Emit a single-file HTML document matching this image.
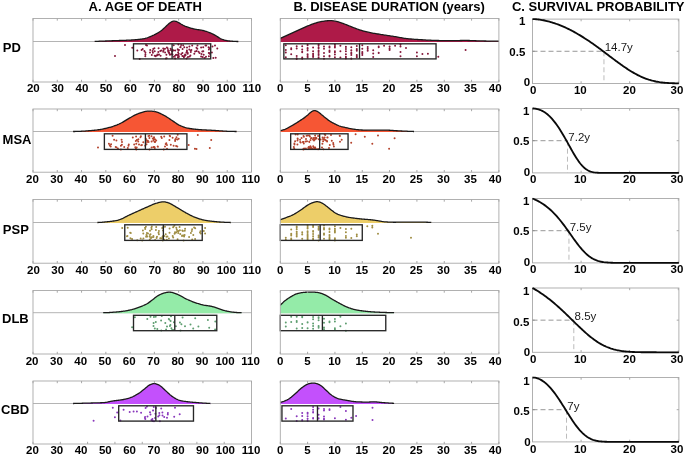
<!DOCTYPE html>
<html><head><meta charset="utf-8"><title>Figure</title>
<style>html,body{margin:0;padding:0;background:#fff}body{width:685px;height:455px;overflow:hidden;font-family:"Liberation Sans",sans-serif}svg{display:block;will-change:transform;opacity:0.9999}</style>
</head><body>
<svg width="685" height="455" viewBox="0 0 685 455" font-family="Liberation Sans, sans-serif">
<rect width="685" height="455" fill="#fff"/>
<g font-weight="bold" font-size="13px" fill="#000">
<text x="145.2" y="10.6" text-anchor="middle">A. AGE OF DEATH</text>
<text x="389.2" y="10.6" text-anchor="middle">B. DISEASE DURATION (years)</text>
<text x="598.2" y="10.6" text-anchor="middle">C. SURVIVAL PROBABILITY</text>
</g>
<g>
<path d="M33.0,41.5H251.5" stroke="#b4b4b4" stroke-width="1"/>
<path d="M94.70,41.41 L95.42,41.38 L96.14,41.36 L96.86,41.33 L97.59,41.30 L98.31,41.28 L99.03,41.25 L99.75,41.22 L100.47,41.19 L101.19,41.17 L101.92,41.14 L102.64,41.11 L103.36,41.09 L104.08,41.06 L104.80,41.03 L105.52,41.00 L106.25,40.98 L106.97,40.95 L107.69,40.92 L108.41,40.90 L109.13,40.87 L109.85,40.84 L110.58,40.81 L111.30,40.79 L112.02,40.76 L112.74,40.73 L113.46,40.71 L114.18,40.68 L114.91,40.65 L115.63,40.63 L116.35,40.60 L117.07,40.58 L117.79,40.56 L118.51,40.53 L119.23,40.51 L119.96,40.49 L120.68,40.46 L121.40,40.44 L122.12,40.41 L122.84,40.39 L123.56,40.36 L124.29,40.34 L125.01,40.31 L125.73,40.28 L126.45,40.25 L127.17,40.22 L127.89,40.18 L128.62,40.15 L129.34,40.11 L130.06,40.07 L130.78,40.03 L131.50,39.99 L132.22,39.94 L132.95,39.89 L133.67,39.84 L134.39,39.79 L135.11,39.73 L135.83,39.68 L136.55,39.61 L137.27,39.55 L138.00,39.48 L138.72,39.41 L139.44,39.33 L140.16,39.24 L140.88,39.14 L141.60,39.04 L142.33,38.93 L143.05,38.82 L143.77,38.70 L144.49,38.56 L145.21,38.40 L145.93,38.21 L146.66,38.00 L147.38,37.76 L148.10,37.50 L148.82,37.23 L149.54,36.93 L150.26,36.63 L150.99,36.32 L151.71,36.00 L152.43,35.68 L153.15,35.35 L153.87,35.02 L154.59,34.67 L155.32,34.30 L156.04,33.92 L156.76,33.53 L157.48,33.12 L158.20,32.69 L158.92,32.24 L159.64,31.78 L160.37,31.28 L161.09,30.75 L161.81,30.18 L162.53,29.58 L163.25,28.95 L163.97,28.30 L164.70,27.63 L165.42,26.96 L166.14,26.28 L166.86,25.59 L167.58,24.90 L168.30,24.22 L169.03,23.58 L169.75,22.98 L170.47,22.44 L171.19,21.99 L171.91,21.62 L172.63,21.36 L173.36,21.19 L174.08,21.13 L174.80,21.16 L175.52,21.28 L176.24,21.47 L176.96,21.74 L177.68,22.07 L178.41,22.47 L179.13,22.90 L179.85,23.35 L180.57,23.79 L181.29,24.23 L182.01,24.64 L182.74,25.04 L183.46,25.41 L184.18,25.75 L184.90,26.08 L185.62,26.39 L186.34,26.67 L187.07,26.94 L187.79,27.19 L188.51,27.43 L189.23,27.66 L189.95,27.88 L190.67,28.09 L191.40,28.29 L192.12,28.48 L192.84,28.66 L193.56,28.83 L194.28,29.00 L195.00,29.15 L195.73,29.29 L196.45,29.42 L197.17,29.54 L197.89,29.65 L198.61,29.76 L199.33,29.87 L200.05,29.98 L200.78,30.09 L201.50,30.22 L202.22,30.35 L202.94,30.50 L203.66,30.66 L204.38,30.84 L205.11,31.04 L205.83,31.26 L206.55,31.49 L207.27,31.74 L207.99,32.00 L208.71,32.27 L209.44,32.55 L210.16,32.84 L210.88,33.15 L211.60,33.48 L212.32,33.82 L213.04,34.18 L213.77,34.55 L214.49,34.94 L215.21,35.33 L215.93,35.75 L216.65,36.18 L217.37,36.64 L218.09,37.11 L218.82,37.59 L219.54,38.05 L220.26,38.48 L220.98,38.87 L221.70,39.21 L222.42,39.48 L223.15,39.71 L223.87,39.92 L224.59,40.11 L225.31,40.30 L226.03,40.46 L226.75,40.61 L227.48,40.74 L228.20,40.85 L228.92,40.94 L229.64,41.01 L230.36,41.08 L231.08,41.15 L231.81,41.20 L232.53,41.26 L233.25,41.31 L233.97,41.35 L234.69,41.39 L235.41,41.43 L236.14,41.46 L236.86,41.48 L237.58,41.49 L238.30,41.50 L238.30,42.05 L94.70,42.05Z" fill="#AE1A48"/>
<path d="M94.70,41.41 L95.42,41.38 L96.14,41.36 L96.86,41.33 L97.59,41.30 L98.31,41.28 L99.03,41.25 L99.75,41.22 L100.47,41.19 L101.19,41.17 L101.92,41.14 L102.64,41.11 L103.36,41.09 L104.08,41.06 L104.80,41.03 L105.52,41.00 L106.25,40.98 L106.97,40.95 L107.69,40.92 L108.41,40.90 L109.13,40.87 L109.85,40.84 L110.58,40.81 L111.30,40.79 L112.02,40.76 L112.74,40.73 L113.46,40.71 L114.18,40.68 L114.91,40.65 L115.63,40.63 L116.35,40.60 L117.07,40.58 L117.79,40.56 L118.51,40.53 L119.23,40.51 L119.96,40.49 L120.68,40.46 L121.40,40.44 L122.12,40.41 L122.84,40.39 L123.56,40.36 L124.29,40.34 L125.01,40.31 L125.73,40.28 L126.45,40.25 L127.17,40.22 L127.89,40.18 L128.62,40.15 L129.34,40.11 L130.06,40.07 L130.78,40.03 L131.50,39.99 L132.22,39.94 L132.95,39.89 L133.67,39.84 L134.39,39.79 L135.11,39.73 L135.83,39.68 L136.55,39.61 L137.27,39.55 L138.00,39.48 L138.72,39.41 L139.44,39.33 L140.16,39.24 L140.88,39.14 L141.60,39.04 L142.33,38.93 L143.05,38.82 L143.77,38.70 L144.49,38.56 L145.21,38.40 L145.93,38.21 L146.66,38.00 L147.38,37.76 L148.10,37.50 L148.82,37.23 L149.54,36.93 L150.26,36.63 L150.99,36.32 L151.71,36.00 L152.43,35.68 L153.15,35.35 L153.87,35.02 L154.59,34.67 L155.32,34.30 L156.04,33.92 L156.76,33.53 L157.48,33.12 L158.20,32.69 L158.92,32.24 L159.64,31.78 L160.37,31.28 L161.09,30.75 L161.81,30.18 L162.53,29.58 L163.25,28.95 L163.97,28.30 L164.70,27.63 L165.42,26.96 L166.14,26.28 L166.86,25.59 L167.58,24.90 L168.30,24.22 L169.03,23.58 L169.75,22.98 L170.47,22.44 L171.19,21.99 L171.91,21.62 L172.63,21.36 L173.36,21.19 L174.08,21.13 L174.80,21.16 L175.52,21.28 L176.24,21.47 L176.96,21.74 L177.68,22.07 L178.41,22.47 L179.13,22.90 L179.85,23.35 L180.57,23.79 L181.29,24.23 L182.01,24.64 L182.74,25.04 L183.46,25.41 L184.18,25.75 L184.90,26.08 L185.62,26.39 L186.34,26.67 L187.07,26.94 L187.79,27.19 L188.51,27.43 L189.23,27.66 L189.95,27.88 L190.67,28.09 L191.40,28.29 L192.12,28.48 L192.84,28.66 L193.56,28.83 L194.28,29.00 L195.00,29.15 L195.73,29.29 L196.45,29.42 L197.17,29.54 L197.89,29.65 L198.61,29.76 L199.33,29.87 L200.05,29.98 L200.78,30.09 L201.50,30.22 L202.22,30.35 L202.94,30.50 L203.66,30.66 L204.38,30.84 L205.11,31.04 L205.83,31.26 L206.55,31.49 L207.27,31.74 L207.99,32.00 L208.71,32.27 L209.44,32.55 L210.16,32.84 L210.88,33.15 L211.60,33.48 L212.32,33.82 L213.04,34.18 L213.77,34.55 L214.49,34.94 L215.21,35.33 L215.93,35.75 L216.65,36.18 L217.37,36.64 L218.09,37.11 L218.82,37.59 L219.54,38.05 L220.26,38.48 L220.98,38.87 L221.70,39.21 L222.42,39.48 L223.15,39.71 L223.87,39.92 L224.59,40.11 L225.31,40.30 L226.03,40.46 L226.75,40.61 L227.48,40.74 L228.20,40.85 L228.92,40.94 L229.64,41.01 L230.36,41.08 L231.08,41.15 L231.81,41.20 L232.53,41.26 L233.25,41.31 L233.97,41.35 L234.69,41.39 L235.41,41.43 L236.14,41.46 L236.86,41.48 L237.58,41.49 L238.30,41.50" fill="none" stroke="#1a1a1a" stroke-width="1.3" stroke-linejoin="round"/>
<path d="M186.6,58.6h0M199.5,52.9h0M155.8,56.2h0M163.2,48.5h0M208.9,56.2h0M203.7,54.7h0M201.5,53.9h0M175.2,58.4h0M163.5,50.8h0M161.3,50.5h0M159.0,54.6h0M173.7,56.7h0M177.7,49.3h0M181.2,54.2h0M201.1,47.5h0M186.4,52.5h0M154.7,55.7h0M147.0,45.4h0M185.6,55.1h0M178.4,44.6h0M175.1,58.5h0M187.0,51.3h0M178.4,50.4h0M177.2,55.0h0M158.3,52.1h0M151.8,55.1h0M192.2,45.6h0M152.9,52.7h0M168.6,52.6h0M204.6,58.1h0M146.0,45.0h0M160.3,51.1h0M209.6,53.7h0M178.1,52.5h0M206.2,45.5h0M187.8,53.1h0M196.5,47.7h0M180.3,47.3h0M177.9,57.3h0M208.6,47.3h0M168.0,51.1h0M184.5,55.4h0M169.9,54.8h0M165.1,52.5h0M145.3,56.3h0M203.3,51.2h0M169.3,53.5h0M183.9,56.4h0M185.1,54.4h0M187.7,53.8h0M190.8,50.4h0M145.4,52.6h0M173.4,50.2h0M157.4,55.3h0M170.9,50.0h0M154.7,51.3h0M190.4,55.5h0M163.2,51.8h0M208.9,49.4h0M189.7,56.6h0M141.6,50.0h0M206.0,56.8h0M182.4,55.9h0M144.4,51.0h0M151.8,54.9h0M181.1,44.9h0M150.2,50.1h0M188.0,57.0h0M182.4,52.9h0M169.1,52.6h0M171.5,54.2h0M157.4,54.4h0M209.1,53.0h0M175.2,50.6h0M180.7,47.1h0M165.0,48.7h0M197.3,48.7h0M168.8,50.7h0M139.7,59.1h0M189.3,49.6h0M172.6,51.0h0M179.0,49.9h0M208.8,52.9h0M166.7,58.3h0M183.9,57.5h0M191.4,49.9h0M167.6,48.3h0M178.7,57.4h0M198.6,51.7h0M145.4,54.5h0M197.5,45.5h0M202.7,57.1h0M142.7,49.0h0M172.0,51.7h0M203.2,47.3h0M186.9,50.6h0M201.1,56.6h0M178.3,56.6h0M195.1,51.4h0M156.0,55.7h0M152.6,51.1h0M168.1,49.9h0M150.0,52.4h0M166.9,47.4h0M182.6,49.1h0M166.4,54.8h0M160.6,55.7h0M173.7,45.2h0M178.5,55.2h0M178.9,56.4h0M196.6,50.9h0M183.2,45.3h0M172.5,54.4h0M209.4,48.0h0M171.5,53.9h0M172.7,49.9h0M178.7,53.8h0M158.6,48.2h0M202.3,51.4h0M190.8,52.1h0M194.3,53.7h0M187.0,47.4h0M165.9,58.5h0M170.6,48.7h0M153.2,48.9h0M154.4,48.2h0M205.5,45.4h0M137.3,50.6h0M185.0,55.7h0M176.0,54.8h0M184.3,47.3h0M189.4,46.4h0M163.8,49.1h0M175.1,55.7h0M186.9,51.6h0M125.0,44.9h0M115.0,56.1h0M132.3,47.7h0M215.0,45.4h0M217.3,48.4h0M211.9,52.4h0M215.7,57.7h0M213.3,57.9h0M212.5,46.5h0" stroke="#861A3C" stroke-width="2.0" stroke-linecap="round" fill="none"/>
<rect x="133.51" y="43.8" width="77.20" height="15.10" fill="none" stroke="#262626" stroke-width="1.35"/>
<path d="M172.11,43.8V58.9" stroke="#262626" stroke-width="1.35"/>
<rect x="33.0" y="18.45" width="218.50" height="63.55" fill="none" stroke="#a8a8a8" stroke-width="0.9"/>
<path d="M33.00,18.45v2.2M57.28,18.45v2.2M81.56,18.45v2.2M105.83,18.45v2.2M130.11,18.45v2.2M154.39,18.45v2.2M178.67,18.45v2.2M202.94,18.45v2.2M227.22,18.45v2.2M251.50,18.45v2.2M33.00,82.0v-2.2M57.28,82.0v-2.2M81.56,82.0v-2.2M105.83,82.0v-2.2M130.11,82.0v-2.2M154.39,82.0v-2.2M178.67,82.0v-2.2M202.94,82.0v-2.2M227.22,82.0v-2.2M251.50,82.0v-2.2" stroke="#a8a8a8" stroke-width="1" fill="none"/>
</g>
<g font-weight="bold" font-size="11.5px" fill="#000" text-anchor="middle">
<text x="33.3" y="92.3">20</text>
<text x="57.6" y="92.3">30</text>
<text x="81.9" y="92.3">40</text>
<text x="106.1" y="92.3">50</text>
<text x="130.4" y="92.3">60</text>
<text x="154.7" y="92.3">70</text>
<text x="179.0" y="92.3">80</text>
<text x="203.2" y="92.3">90</text>
<text x="226.2" y="92.3">100</text>
<text x="251.8" y="92.3">110</text>
<text x="280.3" y="92.3">0</text>
<text x="307.5" y="92.3">5</text>
<text x="334.6" y="92.3">10</text>
<text x="361.8" y="92.3">15</text>
<text x="389.0" y="92.3">20</text>
<text x="416.2" y="92.3">25</text>
<text x="443.4" y="92.3">30</text>
<text x="470.5" y="92.3">35</text>
<text x="495.2" y="92.3">40</text>
</g>
<text x="2.8" y="52.1" font-weight="bold" font-size="13px" fill="#000">PD</text>
<g>
<path d="M280.3,41.5H498.9" stroke="#b4b4b4" stroke-width="1"/>
<path d="M280.30,38.30 L281.40,37.81 L282.50,37.34 L283.60,36.85 L284.69,36.37 L285.79,35.88 L286.89,35.39 L287.99,34.89 L289.09,34.40 L290.19,33.90 L291.28,33.40 L292.38,32.90 L293.48,32.39 L294.58,31.88 L295.68,31.36 L296.78,30.85 L297.88,30.33 L298.97,29.83 L300.07,29.32 L301.17,28.83 L302.27,28.34 L303.37,27.85 L304.47,27.37 L305.57,26.89 L306.66,26.43 L307.76,25.97 L308.86,25.51 L309.96,25.07 L311.06,24.63 L312.16,24.22 L313.25,23.82 L314.35,23.44 L315.45,23.08 L316.55,22.75 L317.65,22.45 L318.75,22.17 L319.85,21.91 L320.94,21.68 L322.04,21.46 L323.14,21.27 L324.24,21.09 L325.34,20.95 L326.44,20.85 L327.54,20.77 L328.63,20.71 L329.73,20.68 L330.83,20.67 L331.93,20.71 L333.03,20.80 L334.13,20.93 L335.22,21.13 L336.32,21.39 L337.42,21.67 L338.52,21.97 L339.62,22.30 L340.72,22.65 L341.82,23.02 L342.91,23.41 L344.01,23.82 L345.11,24.24 L346.21,24.68 L347.31,25.12 L348.41,25.56 L349.51,26.00 L350.60,26.44 L351.70,26.88 L352.80,27.31 L353.90,27.75 L355.00,28.18 L356.10,28.60 L357.19,29.00 L358.29,29.39 L359.39,29.76 L360.49,30.11 L361.59,30.46 L362.69,30.79 L363.79,31.10 L364.88,31.40 L365.98,31.69 L367.08,31.96 L368.18,32.22 L369.28,32.46 L370.38,32.69 L371.47,32.91 L372.57,33.11 L373.67,33.30 L374.77,33.48 L375.87,33.66 L376.97,33.84 L378.07,34.01 L379.16,34.19 L380.26,34.36 L381.36,34.53 L382.46,34.71 L383.56,34.88 L384.66,35.05 L385.76,35.22 L386.85,35.38 L387.95,35.55 L389.05,35.71 L390.15,35.88 L391.25,36.04 L392.35,36.21 L393.44,36.38 L394.54,36.55 L395.64,36.73 L396.74,36.92 L397.84,37.11 L398.94,37.32 L400.04,37.52 L401.13,37.73 L402.23,37.93 L403.33,38.11 L404.43,38.28 L405.53,38.43 L406.63,38.57 L407.73,38.69 L408.82,38.80 L409.92,38.91 L411.02,39.01 L412.12,39.11 L413.22,39.20 L414.32,39.29 L415.41,39.36 L416.51,39.43 L417.61,39.50 L418.71,39.57 L419.81,39.64 L420.91,39.71 L422.01,39.77 L423.10,39.84 L424.20,39.90 L425.30,39.97 L426.40,40.03 L427.50,40.09 L428.60,40.15 L429.69,40.20 L430.79,40.26 L431.89,40.30 L432.99,40.35 L434.09,40.39 L435.19,40.42 L436.29,40.46 L437.38,40.49 L438.48,40.52 L439.58,40.55 L440.68,40.57 L441.78,40.60 L442.88,40.62 L443.98,40.65 L445.07,40.67 L446.17,40.68 L447.27,40.69 L448.37,40.70 L449.47,40.71 L450.57,40.70 L451.66,40.69 L452.76,40.68 L453.86,40.66 L454.96,40.64 L456.06,40.62 L457.16,40.59 L458.26,40.56 L459.35,40.54 L460.45,40.51 L461.55,40.49 L462.65,40.47 L463.75,40.46 L464.85,40.45 L465.95,40.45 L467.04,40.46 L468.14,40.48 L469.24,40.50 L470.34,40.54 L471.44,40.58 L472.54,40.62 L473.63,40.67 L474.73,40.71 L475.83,40.76 L476.93,40.80 L478.03,40.84 L479.13,40.87 L480.23,40.90 L481.32,40.92 L482.42,40.95 L483.52,40.97 L484.62,41.00 L485.72,41.02 L486.82,41.04 L487.92,41.06 L489.01,41.09 L490.11,41.11 L491.21,41.13 L492.31,41.14 L493.41,41.16 L494.51,41.18 L495.60,41.20 L496.70,41.21 L497.80,41.22 L498.90,41.24 L498.90,42.05 L280.30,42.05Z" fill="#AE1A48"/>
<path d="M280.30,38.30 L281.40,37.81 L282.50,37.34 L283.60,36.85 L284.69,36.37 L285.79,35.88 L286.89,35.39 L287.99,34.89 L289.09,34.40 L290.19,33.90 L291.28,33.40 L292.38,32.90 L293.48,32.39 L294.58,31.88 L295.68,31.36 L296.78,30.85 L297.88,30.33 L298.97,29.83 L300.07,29.32 L301.17,28.83 L302.27,28.34 L303.37,27.85 L304.47,27.37 L305.57,26.89 L306.66,26.43 L307.76,25.97 L308.86,25.51 L309.96,25.07 L311.06,24.63 L312.16,24.22 L313.25,23.82 L314.35,23.44 L315.45,23.08 L316.55,22.75 L317.65,22.45 L318.75,22.17 L319.85,21.91 L320.94,21.68 L322.04,21.46 L323.14,21.27 L324.24,21.09 L325.34,20.95 L326.44,20.85 L327.54,20.77 L328.63,20.71 L329.73,20.68 L330.83,20.67 L331.93,20.71 L333.03,20.80 L334.13,20.93 L335.22,21.13 L336.32,21.39 L337.42,21.67 L338.52,21.97 L339.62,22.30 L340.72,22.65 L341.82,23.02 L342.91,23.41 L344.01,23.82 L345.11,24.24 L346.21,24.68 L347.31,25.12 L348.41,25.56 L349.51,26.00 L350.60,26.44 L351.70,26.88 L352.80,27.31 L353.90,27.75 L355.00,28.18 L356.10,28.60 L357.19,29.00 L358.29,29.39 L359.39,29.76 L360.49,30.11 L361.59,30.46 L362.69,30.79 L363.79,31.10 L364.88,31.40 L365.98,31.69 L367.08,31.96 L368.18,32.22 L369.28,32.46 L370.38,32.69 L371.47,32.91 L372.57,33.11 L373.67,33.30 L374.77,33.48 L375.87,33.66 L376.97,33.84 L378.07,34.01 L379.16,34.19 L380.26,34.36 L381.36,34.53 L382.46,34.71 L383.56,34.88 L384.66,35.05 L385.76,35.22 L386.85,35.38 L387.95,35.55 L389.05,35.71 L390.15,35.88 L391.25,36.04 L392.35,36.21 L393.44,36.38 L394.54,36.55 L395.64,36.73 L396.74,36.92 L397.84,37.11 L398.94,37.32 L400.04,37.52 L401.13,37.73 L402.23,37.93 L403.33,38.11 L404.43,38.28 L405.53,38.43 L406.63,38.57 L407.73,38.69 L408.82,38.80 L409.92,38.91 L411.02,39.01 L412.12,39.11 L413.22,39.20 L414.32,39.29 L415.41,39.36 L416.51,39.43 L417.61,39.50 L418.71,39.57 L419.81,39.64 L420.91,39.71 L422.01,39.77 L423.10,39.84 L424.20,39.90 L425.30,39.97 L426.40,40.03 L427.50,40.09 L428.60,40.15 L429.69,40.20 L430.79,40.26 L431.89,40.30 L432.99,40.35 L434.09,40.39 L435.19,40.42 L436.29,40.46 L437.38,40.49 L438.48,40.52 L439.58,40.55 L440.68,40.57 L441.78,40.60 L442.88,40.62 L443.98,40.65 L445.07,40.67 L446.17,40.68 L447.27,40.69 L448.37,40.70 L449.47,40.71 L450.57,40.70 L451.66,40.69 L452.76,40.68 L453.86,40.66 L454.96,40.64 L456.06,40.62 L457.16,40.59 L458.26,40.56 L459.35,40.54 L460.45,40.51 L461.55,40.49 L462.65,40.47 L463.75,40.46 L464.85,40.45 L465.95,40.45 L467.04,40.46 L468.14,40.48 L469.24,40.50 L470.34,40.54 L471.44,40.58 L472.54,40.62 L473.63,40.67 L474.73,40.71 L475.83,40.76 L476.93,40.80 L478.03,40.84 L479.13,40.87 L480.23,40.90 L481.32,40.92 L482.42,40.95 L483.52,40.97 L484.62,41.00 L485.72,41.02 L486.82,41.04 L487.92,41.06 L489.01,41.09 L490.11,41.11 L491.21,41.13 L492.31,41.14 L493.41,41.16 L494.51,41.18 L495.60,41.20 L496.70,41.21 L497.80,41.22 L498.90,41.24" fill="none" stroke="#1a1a1a" stroke-width="1.3" stroke-linejoin="round"/>
<path d="M400.5,46.6h0M351.3,50.4h0M345.9,56.7h0M362.3,53.6h0M362.3,55.1h0M324.0,52.9h0M318.6,47.5h0M329.5,56.4h0M334.9,44.6h0M307.6,54.7h0M329.5,47.3h0M345.9,51.3h0M302.2,58.7h0M302.2,52.3h0M307.6,45.2h0M318.6,50.7h0M422.4,54.1h0M285.8,45.2h0M307.6,48.1h0M307.6,44.7h0M334.9,52.3h0M285.8,50.0h0M329.5,51.8h0M307.6,48.7h0M318.6,54.1h0M367.7,46.9h0M307.6,57.7h0M345.9,58.5h0M329.5,51.6h0M329.5,51.2h0M373.2,57.0h0M307.6,48.7h0M400.5,56.2h0M389.6,48.6h0M351.3,55.0h0M291.2,49.3h0M351.3,53.3h0M345.9,58.0h0M362.3,45.2h0M313.1,56.3h0M416.9,52.4h0M389.6,50.0h0M302.2,49.5h0M318.6,45.4h0M291.2,48.2h0M373.2,53.6h0M395.1,45.8h0M345.9,54.2h0M351.3,58.5h0M351.3,58.8h0M340.4,57.5h0M416.9,56.3h0M345.9,47.0h0M324.0,58.7h0M334.9,47.4h0M285.8,57.2h0M356.8,57.3h0M351.3,53.5h0M329.5,52.1h0M378.7,47.3h0M362.3,52.0h0M324.0,48.7h0M296.7,46.3h0M302.2,46.3h0M307.6,56.2h0M318.6,58.0h0M329.5,46.5h0M400.5,44.6h0M318.6,48.3h0M389.6,46.4h0M351.3,47.2h0M378.7,53.0h0M329.5,50.6h0M367.7,50.7h0M313.1,47.4h0M307.6,54.2h0M367.7,48.7h0M351.3,50.3h0M313.1,51.2h0M318.6,57.7h0M406.0,48.0h0M318.6,55.0h0M356.8,48.9h0M302.2,57.5h0M373.2,50.2h0M302.2,51.8h0M334.9,57.3h0M291.2,54.3h0M340.4,45.8h0M378.7,46.4h0M296.7,59.0h0M318.6,44.8h0M362.3,48.8h0M345.9,58.5h0M318.6,44.6h0M345.9,46.8h0M329.5,47.5h0M384.1,45.7h0M318.6,51.3h0M362.3,53.1h0M345.9,49.1h0M356.8,46.0h0M324.0,56.3h0M356.8,56.2h0M351.3,52.7h0M324.0,46.4h0M285.8,52.4h0M427.9,53.7h0M356.8,50.7h0M313.1,57.1h0M356.8,50.1h0M318.6,51.9h0M334.9,46.1h0M378.7,52.7h0M329.5,55.7h0M318.6,55.1h0M318.6,48.2h0M296.7,59.0h0M313.1,55.0h0M318.6,50.6h0M307.6,50.5h0M296.7,55.9h0M334.9,47.0h0M313.1,53.8h0M356.8,55.0h0M400.5,52.0h0M318.6,57.2h0M340.4,51.3h0M334.9,51.2h0M296.7,48.6h0M302.2,57.9h0M389.6,49.0h0M334.9,54.6h0M367.7,50.4h0M296.7,58.2h0M438.3,56.7h0M465.6,50.0h0" stroke="#861A3C" stroke-width="2.0" stroke-linecap="round" fill="none"/>
<rect x="283.85" y="43.8" width="152.20" height="15.10" fill="none" stroke="#262626" stroke-width="1.35"/>
<path d="M359.54,43.8V58.9" stroke="#262626" stroke-width="1.35"/>
<rect x="280.3" y="18.45" width="218.60" height="63.55" fill="none" stroke="#a8a8a8" stroke-width="0.9"/>
<path d="M280.30,18.45v2.2M307.62,18.45v2.2M334.95,18.45v2.2M362.27,18.45v2.2M389.60,18.45v2.2M416.92,18.45v2.2M444.25,18.45v2.2M471.57,18.45v2.2M498.90,18.45v2.2M280.30,82.0v-2.2M307.62,82.0v-2.2M334.95,82.0v-2.2M362.27,82.0v-2.2M389.60,82.0v-2.2M416.92,82.0v-2.2M444.25,82.0v-2.2M471.57,82.0v-2.2M498.90,82.0v-2.2" stroke="#a8a8a8" stroke-width="1" fill="none"/>
</g>
<g>
<rect x="532.5" y="19.1" width="146.40" height="64.35" fill="none" stroke="#a8a8a8" stroke-width="0.9"/>
<path d="M532.50,19.1v2.2M581.10,19.1v2.2M629.70,19.1v2.2M678.30,19.1v2.2M532.50,83.45v-2.2M581.10,83.45v-2.2M629.70,83.45v-2.2M678.30,83.45v-2.2M532.5,51.28h2.2M678.9,51.28h-2.2" stroke="#a8a8a8" stroke-width="1" fill="none"/>
<path d="M532.5,51.28H603.94" stroke="#7c7c7c" stroke-width="0.8" fill="none" stroke-dasharray="5,3"/>
<path d="M603.94,51.28V83.45" stroke="#b4b4b4" stroke-width="0.9" fill="none" stroke-dasharray="5,3"/>
<path d="M532.50,19.10 L533.71,19.12 L534.92,19.18 L536.13,19.27 L537.34,19.38 L538.55,19.51 L539.76,19.67 L540.97,19.86 L542.18,20.06 L543.39,20.28 L544.60,20.53 L545.81,20.79 L547.02,21.07 L548.23,21.38 L549.44,21.70 L550.65,22.04 L551.86,22.39 L553.07,22.77 L554.28,23.16 L555.49,23.57 L556.70,24.00 L557.91,24.45 L559.12,24.91 L560.32,25.39 L561.53,25.88 L562.74,26.39 L563.95,26.92 L565.16,27.46 L566.37,28.02 L567.58,28.60 L568.79,29.19 L570.00,29.79 L571.21,30.41 L572.42,31.05 L573.63,31.69 L574.84,32.36 L576.05,33.04 L577.26,33.73 L578.47,34.43 L579.68,35.15 L580.89,35.88 L582.10,36.63 L583.31,37.39 L584.52,38.16 L585.73,38.94 L586.94,39.73 L588.15,40.54 L589.36,41.35 L590.57,42.18 L591.78,43.02 L592.99,43.86 L594.20,44.72 L595.41,45.58 L596.62,46.45 L597.83,47.33 L599.04,48.22 L600.25,49.11 L601.46,50.01 L602.67,50.91 L603.88,51.82 L605.09,52.73 L606.30,53.64 L607.51,54.56 L608.72,55.47 L609.93,56.39 L611.14,57.30 L612.35,58.21 L613.56,59.12 L614.76,60.03 L615.97,60.93 L617.18,61.82 L618.39,62.71 L619.60,63.59 L620.81,64.46 L622.02,65.32 L623.23,66.17 L624.44,67.01 L625.65,67.83 L626.86,68.63 L628.07,69.43 L629.28,70.20 L630.49,70.96 L631.70,71.69 L632.91,72.41 L634.12,73.11 L635.33,73.78 L636.54,74.43 L637.75,75.06 L638.96,75.67 L640.17,76.25 L641.38,76.80 L642.59,77.33 L643.80,77.84 L645.01,78.32 L646.22,78.77 L647.43,79.20 L648.64,79.60 L649.85,79.97 L651.06,80.32 L652.27,80.65 L653.48,80.95 L654.69,81.23 L655.90,81.49 L657.11,81.72 L658.32,81.93 L659.53,82.13 L660.74,82.30 L661.95,82.46 L663.16,82.60 L664.37,82.72 L665.58,82.83 L666.79,82.93 L668.00,83.01 L669.20,83.08 L670.41,83.14 L671.62,83.20 L672.83,83.24 L674.04,83.28 L675.25,83.31 L676.46,83.34 L677.67,83.36 L678.88,83.38" fill="none" stroke="#0a0a0a" stroke-width="1.85" stroke-linejoin="round"/>
<text x="604.7" y="51.4" font-size="11.5px" fill="#1a1a1a">14.7y</text>
<g font-weight="bold" font-size="11.5px" fill="#000">
<text x="525.3" y="25.0" text-anchor="end">1</text>
<text x="525.3" y="55.5" text-anchor="end">0.5</text>
<text x="530.2" y="86.3" text-anchor="end">0</text>
<text x="533.3" y="93.5" text-anchor="middle">0</text>
<text x="580.3" y="93.5" text-anchor="middle">10</text>
<text x="629.4" y="93.5" text-anchor="middle">20</text>
<text x="677.0" y="93.5" text-anchor="middle">30</text>
</g></g>
<g>
<path d="M33.0,131.5H251.5" stroke="#b4b4b4" stroke-width="1"/>
<path d="M73.10,131.50 L73.92,131.50 L74.74,131.49 L75.56,131.47 L76.39,131.45 L77.21,131.43 L78.03,131.41 L78.85,131.37 L79.67,131.34 L80.49,131.30 L81.32,131.26 L82.14,131.21 L82.96,131.16 L83.78,131.11 L84.60,131.05 L85.42,131.00 L86.25,130.93 L87.07,130.87 L87.89,130.81 L88.71,130.74 L89.53,130.67 L90.35,130.60 L91.18,130.53 L92.00,130.45 L92.82,130.38 L93.64,130.30 L94.46,130.23 L95.28,130.15 L96.11,130.06 L96.93,129.97 L97.75,129.86 L98.57,129.75 L99.39,129.63 L100.21,129.51 L101.03,129.37 L101.86,129.22 L102.68,129.05 L103.50,128.87 L104.32,128.69 L105.14,128.50 L105.96,128.31 L106.79,128.11 L107.61,127.91 L108.43,127.70 L109.25,127.48 L110.07,127.26 L110.89,127.03 L111.72,126.78 L112.54,126.52 L113.36,126.25 L114.18,125.96 L115.00,125.66 L115.82,125.35 L116.65,125.03 L117.47,124.69 L118.29,124.34 L119.11,123.99 L119.93,123.61 L120.75,123.21 L121.57,122.79 L122.40,122.34 L123.22,121.86 L124.04,121.37 L124.86,120.86 L125.68,120.35 L126.50,119.85 L127.33,119.35 L128.15,118.87 L128.97,118.39 L129.79,117.92 L130.61,117.45 L131.43,116.97 L132.26,116.51 L133.08,116.05 L133.90,115.61 L134.72,115.19 L135.54,114.79 L136.36,114.42 L137.19,114.07 L138.01,113.73 L138.83,113.41 L139.65,113.10 L140.47,112.80 L141.29,112.52 L142.12,112.26 L142.94,112.03 L143.76,111.82 L144.58,111.64 L145.40,111.48 L146.22,111.33 L147.04,111.20 L147.87,111.11 L148.69,111.05 L149.51,111.04 L150.33,111.06 L151.15,111.12 L151.97,111.20 L152.80,111.30 L153.62,111.41 L154.44,111.54 L155.26,111.70 L156.08,111.89 L156.90,112.12 L157.73,112.40 L158.55,112.72 L159.37,113.06 L160.19,113.43 L161.01,113.82 L161.83,114.22 L162.66,114.63 L163.48,115.05 L164.30,115.49 L165.12,115.94 L165.94,116.43 L166.76,116.94 L167.58,117.47 L168.41,118.02 L169.23,118.57 L170.05,119.13 L170.87,119.68 L171.69,120.23 L172.51,120.78 L173.34,121.34 L174.16,121.90 L174.98,122.48 L175.80,123.05 L176.62,123.60 L177.44,124.13 L178.27,124.62 L179.09,125.06 L179.91,125.46 L180.73,125.83 L181.55,126.17 L182.37,126.49 L183.20,126.80 L184.02,127.09 L184.84,127.36 L185.66,127.61 L186.48,127.83 L187.30,128.03 L188.13,128.21 L188.95,128.37 L189.77,128.51 L190.59,128.64 L191.41,128.76 L192.23,128.88 L193.05,128.99 L193.88,129.09 L194.70,129.18 L195.52,129.27 L196.34,129.35 L197.16,129.42 L197.98,129.49 L198.81,129.55 L199.63,129.62 L200.45,129.67 L201.27,129.73 L202.09,129.78 L202.91,129.83 L203.74,129.88 L204.56,129.93 L205.38,129.97 L206.20,130.01 L207.02,130.05 L207.84,130.09 L208.67,130.13 L209.49,130.17 L210.31,130.21 L211.13,130.25 L211.95,130.29 L212.77,130.34 L213.59,130.38 L214.42,130.43 L215.24,130.48 L216.06,130.54 L216.88,130.59 L217.70,130.65 L218.52,130.72 L219.35,130.78 L220.17,130.84 L220.99,130.91 L221.81,130.97 L222.63,131.02 L223.45,131.08 L224.28,131.13 L225.10,131.17 L225.92,131.21 L226.74,131.25 L227.56,131.28 L228.38,131.31 L229.21,131.33 L230.03,131.36 L230.85,131.39 L231.67,131.41 L232.49,131.43 L233.31,131.45 L234.14,131.47 L234.96,131.48 L235.78,131.49 L236.60,131.50 L236.60,132.05 L73.10,132.05Z" fill="#F65634"/>
<path d="M73.10,131.50 L73.92,131.50 L74.74,131.49 L75.56,131.47 L76.39,131.45 L77.21,131.43 L78.03,131.41 L78.85,131.37 L79.67,131.34 L80.49,131.30 L81.32,131.26 L82.14,131.21 L82.96,131.16 L83.78,131.11 L84.60,131.05 L85.42,131.00 L86.25,130.93 L87.07,130.87 L87.89,130.81 L88.71,130.74 L89.53,130.67 L90.35,130.60 L91.18,130.53 L92.00,130.45 L92.82,130.38 L93.64,130.30 L94.46,130.23 L95.28,130.15 L96.11,130.06 L96.93,129.97 L97.75,129.86 L98.57,129.75 L99.39,129.63 L100.21,129.51 L101.03,129.37 L101.86,129.22 L102.68,129.05 L103.50,128.87 L104.32,128.69 L105.14,128.50 L105.96,128.31 L106.79,128.11 L107.61,127.91 L108.43,127.70 L109.25,127.48 L110.07,127.26 L110.89,127.03 L111.72,126.78 L112.54,126.52 L113.36,126.25 L114.18,125.96 L115.00,125.66 L115.82,125.35 L116.65,125.03 L117.47,124.69 L118.29,124.34 L119.11,123.99 L119.93,123.61 L120.75,123.21 L121.57,122.79 L122.40,122.34 L123.22,121.86 L124.04,121.37 L124.86,120.86 L125.68,120.35 L126.50,119.85 L127.33,119.35 L128.15,118.87 L128.97,118.39 L129.79,117.92 L130.61,117.45 L131.43,116.97 L132.26,116.51 L133.08,116.05 L133.90,115.61 L134.72,115.19 L135.54,114.79 L136.36,114.42 L137.19,114.07 L138.01,113.73 L138.83,113.41 L139.65,113.10 L140.47,112.80 L141.29,112.52 L142.12,112.26 L142.94,112.03 L143.76,111.82 L144.58,111.64 L145.40,111.48 L146.22,111.33 L147.04,111.20 L147.87,111.11 L148.69,111.05 L149.51,111.04 L150.33,111.06 L151.15,111.12 L151.97,111.20 L152.80,111.30 L153.62,111.41 L154.44,111.54 L155.26,111.70 L156.08,111.89 L156.90,112.12 L157.73,112.40 L158.55,112.72 L159.37,113.06 L160.19,113.43 L161.01,113.82 L161.83,114.22 L162.66,114.63 L163.48,115.05 L164.30,115.49 L165.12,115.94 L165.94,116.43 L166.76,116.94 L167.58,117.47 L168.41,118.02 L169.23,118.57 L170.05,119.13 L170.87,119.68 L171.69,120.23 L172.51,120.78 L173.34,121.34 L174.16,121.90 L174.98,122.48 L175.80,123.05 L176.62,123.60 L177.44,124.13 L178.27,124.62 L179.09,125.06 L179.91,125.46 L180.73,125.83 L181.55,126.17 L182.37,126.49 L183.20,126.80 L184.02,127.09 L184.84,127.36 L185.66,127.61 L186.48,127.83 L187.30,128.03 L188.13,128.21 L188.95,128.37 L189.77,128.51 L190.59,128.64 L191.41,128.76 L192.23,128.88 L193.05,128.99 L193.88,129.09 L194.70,129.18 L195.52,129.27 L196.34,129.35 L197.16,129.42 L197.98,129.49 L198.81,129.55 L199.63,129.62 L200.45,129.67 L201.27,129.73 L202.09,129.78 L202.91,129.83 L203.74,129.88 L204.56,129.93 L205.38,129.97 L206.20,130.01 L207.02,130.05 L207.84,130.09 L208.67,130.13 L209.49,130.17 L210.31,130.21 L211.13,130.25 L211.95,130.29 L212.77,130.34 L213.59,130.38 L214.42,130.43 L215.24,130.48 L216.06,130.54 L216.88,130.59 L217.70,130.65 L218.52,130.72 L219.35,130.78 L220.17,130.84 L220.99,130.91 L221.81,130.97 L222.63,131.02 L223.45,131.08 L224.28,131.13 L225.10,131.17 L225.92,131.21 L226.74,131.25 L227.56,131.28 L228.38,131.31 L229.21,131.33 L230.03,131.36 L230.85,131.39 L231.67,131.41 L232.49,131.43 L233.31,131.45 L234.14,131.47 L234.96,131.48 L235.78,131.49 L236.60,131.50" fill="none" stroke="#1a1a1a" stroke-width="1.3" stroke-linejoin="round"/>
<path d="M154.8,148.0h0M114.1,139.8h0M148.5,136.0h0M108.9,143.8h0M151.5,136.3h0M127.8,148.0h0M140.9,136.3h0M136.8,139.9h0M154.7,141.9h0M170.1,136.2h0M138.4,139.2h0M152.8,138.6h0M141.2,145.2h0M120.9,149.4h0M175.1,139.9h0M157.7,146.4h0M136.1,136.5h0M166.3,143.2h0M135.8,141.0h0M178.7,138.8h0M115.7,146.9h0M120.9,145.7h0M164.2,136.4h0M145.8,138.8h0M124.2,146.9h0M149.5,149.5h0M136.3,143.7h0M151.6,147.6h0M163.7,149.4h0M173.6,145.7h0M111.1,144.2h0M154.1,137.8h0M146.4,140.0h0M165.7,143.9h0M117.9,148.5h0M175.6,139.0h0M153.5,140.4h0M177.7,134.7h0M167.0,145.0h0M175.1,141.1h0M110.7,146.5h0M161.8,138.0h0M128.8,144.4h0M134.2,144.6h0M138.2,141.5h0M154.0,137.3h0M156.2,140.5h0M128.5,145.7h0M140.5,137.3h0M169.7,135.8h0M151.6,141.4h0M149.4,138.0h0M165.0,146.6h0M157.9,146.8h0M135.8,148.8h0M116.4,147.2h0M146.5,144.2h0M176.5,137.2h0M154.4,146.9h0M109.8,145.5h0M145.2,145.8h0M141.9,145.0h0M153.5,147.0h0M153.8,138.9h0M139.0,144.6h0M143.3,142.3h0M155.3,139.5h0M177.4,139.4h0M161.2,136.8h0M147.0,141.9h0M169.4,140.0h0M147.9,140.8h0M135.3,147.3h0M121.9,144.8h0M170.8,144.7h0M136.3,149.4h0M172.6,137.7h0M155.1,142.1h0M149.2,135.8h0M116.4,140.4h0M167.0,148.8h0M112.6,135.7h0M176.1,145.9h0M136.7,147.6h0M122.0,142.1h0M177.3,146.5h0M147.5,141.1h0M121.6,139.8h0M148.6,142.1h0M132.8,137.4h0M98.0,147.6h0M197.8,135.1h0M211.2,140.0h0M209.8,147.9h0M194.9,148.8h0M188.7,145.0h0M196.5,148.9h0" stroke="#B5442E" stroke-width="2.0" stroke-linecap="round" fill="none"/>
<rect x="104.38" y="133.8" width="82.54" height="15.60" fill="none" stroke="#262626" stroke-width="1.35"/>
<path d="M145.41,133.8V149.4" stroke="#262626" stroke-width="1.35"/>
<rect x="33.0" y="109.0" width="218.50" height="63.20" fill="none" stroke="#a8a8a8" stroke-width="0.9"/>
<path d="M33.00,109.0v2.2M57.28,109.0v2.2M81.56,109.0v2.2M105.83,109.0v2.2M130.11,109.0v2.2M154.39,109.0v2.2M178.67,109.0v2.2M202.94,109.0v2.2M227.22,109.0v2.2M251.50,109.0v2.2M33.00,172.2v-2.2M57.28,172.2v-2.2M81.56,172.2v-2.2M105.83,172.2v-2.2M130.11,172.2v-2.2M154.39,172.2v-2.2M178.67,172.2v-2.2M202.94,172.2v-2.2M227.22,172.2v-2.2M251.50,172.2v-2.2" stroke="#a8a8a8" stroke-width="1" fill="none"/>
</g>
<g font-weight="bold" font-size="11.5px" fill="#000" text-anchor="middle">
<text x="32.4" y="182.7">20</text>
<text x="56.7" y="182.7">30</text>
<text x="81.0" y="182.7">40</text>
<text x="105.2" y="182.7">50</text>
<text x="129.5" y="182.7">60</text>
<text x="153.8" y="182.7">70</text>
<text x="178.1" y="182.7">80</text>
<text x="202.3" y="182.7">90</text>
<text x="225.3" y="182.7">100</text>
<text x="250.9" y="182.7">110</text>
<text x="280.3" y="182.7">0</text>
<text x="307.5" y="182.7">5</text>
<text x="334.6" y="182.7">10</text>
<text x="361.8" y="182.7">15</text>
<text x="389.0" y="182.7">20</text>
<text x="416.2" y="182.7">25</text>
<text x="443.4" y="182.7">30</text>
<text x="470.5" y="182.7">35</text>
<text x="495.2" y="182.7">40</text>
</g>
<text x="2.6" y="143.9" font-weight="bold" font-size="13px" fill="#000">MSA</text>
<g>
<path d="M280.3,131.5H498.9" stroke="#b4b4b4" stroke-width="1"/>
<path d="M280.30,130.62 L280.97,130.47 L281.64,130.30 L282.32,130.13 L282.99,129.93 L283.66,129.73 L284.33,129.51 L285.00,129.28 L285.67,128.99 L286.35,128.69 L287.02,128.36 L287.69,128.01 L288.36,127.65 L289.03,127.27 L289.71,126.89 L290.38,126.51 L291.05,126.13 L291.72,125.75 L292.39,125.36 L293.07,124.97 L293.74,124.57 L294.41,124.17 L295.08,123.76 L295.75,123.35 L296.42,122.93 L297.10,122.51 L297.77,122.08 L298.44,121.65 L299.11,121.21 L299.78,120.78 L300.46,120.35 L301.13,119.91 L301.80,119.48 L302.47,119.04 L303.14,118.59 L303.82,118.12 L304.49,117.64 L305.16,117.13 L305.83,116.61 L306.50,116.06 L307.17,115.49 L307.85,114.90 L308.52,114.28 L309.19,113.64 L309.86,113.02 L310.53,112.44 L311.21,111.91 L311.88,111.47 L312.55,111.12 L313.22,110.86 L313.89,110.71 L314.56,110.66 L315.24,110.71 L315.91,110.86 L316.58,111.09 L317.25,111.40 L317.92,111.78 L318.60,112.22 L319.27,112.72 L319.94,113.27 L320.61,113.84 L321.28,114.43 L321.96,115.00 L322.63,115.57 L323.30,116.12 L323.97,116.66 L324.64,117.20 L325.31,117.74 L325.99,118.28 L326.66,118.82 L327.33,119.35 L328.00,119.87 L328.67,120.36 L329.35,120.82 L330.02,121.26 L330.69,121.68 L331.36,122.07 L332.03,122.45 L332.71,122.82 L333.38,123.17 L334.05,123.52 L334.72,123.86 L335.39,124.20 L336.06,124.53 L336.74,124.85 L337.41,125.17 L338.08,125.47 L338.75,125.75 L339.42,126.01 L340.10,126.24 L340.77,126.45 L341.44,126.64 L342.11,126.80 L342.78,126.95 L343.45,127.09 L344.13,127.23 L344.80,127.37 L345.47,127.52 L346.14,127.68 L346.81,127.83 L347.49,127.99 L348.16,128.14 L348.83,128.29 L349.50,128.44 L350.17,128.57 L350.85,128.70 L351.52,128.83 L352.19,128.94 L352.86,129.05 L353.53,129.16 L354.20,129.26 L354.88,129.36 L355.55,129.45 L356.22,129.53 L356.89,129.61 L357.56,129.69 L358.24,129.76 L358.91,129.82 L359.58,129.88 L360.25,129.92 L360.92,129.96 L361.59,129.99 L362.27,130.01 L362.94,130.03 L363.61,130.05 L364.28,130.06 L364.95,130.08 L365.63,130.09 L366.30,130.10 L366.97,130.11 L367.64,130.13 L368.31,130.14 L368.99,130.14 L369.66,130.15 L370.33,130.16 L371.00,130.17 L371.67,130.17 L372.34,130.17 L373.02,130.18 L373.69,130.18 L374.36,130.18 L375.03,130.18 L375.70,130.18 L376.38,130.18 L377.05,130.18 L377.72,130.18 L378.39,130.18 L379.06,130.18 L379.74,130.18 L380.41,130.18 L381.08,130.18 L381.75,130.18 L382.42,130.18 L383.09,130.18 L383.77,130.18 L384.44,130.18 L385.11,130.18 L385.78,130.18 L386.45,130.18 L387.13,130.19 L387.80,130.20 L388.47,130.22 L389.14,130.24 L389.81,130.27 L390.48,130.30 L391.16,130.34 L391.83,130.39 L392.50,130.43 L393.17,130.48 L393.84,130.53 L394.52,130.58 L395.19,130.63 L395.86,130.68 L396.53,130.73 L397.20,130.77 L397.88,130.81 L398.55,130.85 L399.22,130.89 L399.89,130.92 L400.56,130.95 L401.23,130.98 L401.91,131.02 L402.58,131.05 L403.25,131.08 L403.92,131.11 L404.59,131.14 L405.27,131.17 L405.94,131.19 L406.61,131.22 L407.28,131.25 L407.95,131.28 L408.63,131.30 L409.30,131.33 L409.97,131.36 L410.64,131.38 L411.31,131.41 L411.98,131.43 L412.66,131.45 L413.33,131.48 L414.00,131.50 L414.00,132.05 L280.30,132.05Z" fill="#F65634"/>
<path d="M280.30,130.62 L280.97,130.47 L281.64,130.30 L282.32,130.13 L282.99,129.93 L283.66,129.73 L284.33,129.51 L285.00,129.28 L285.67,128.99 L286.35,128.69 L287.02,128.36 L287.69,128.01 L288.36,127.65 L289.03,127.27 L289.71,126.89 L290.38,126.51 L291.05,126.13 L291.72,125.75 L292.39,125.36 L293.07,124.97 L293.74,124.57 L294.41,124.17 L295.08,123.76 L295.75,123.35 L296.42,122.93 L297.10,122.51 L297.77,122.08 L298.44,121.65 L299.11,121.21 L299.78,120.78 L300.46,120.35 L301.13,119.91 L301.80,119.48 L302.47,119.04 L303.14,118.59 L303.82,118.12 L304.49,117.64 L305.16,117.13 L305.83,116.61 L306.50,116.06 L307.17,115.49 L307.85,114.90 L308.52,114.28 L309.19,113.64 L309.86,113.02 L310.53,112.44 L311.21,111.91 L311.88,111.47 L312.55,111.12 L313.22,110.86 L313.89,110.71 L314.56,110.66 L315.24,110.71 L315.91,110.86 L316.58,111.09 L317.25,111.40 L317.92,111.78 L318.60,112.22 L319.27,112.72 L319.94,113.27 L320.61,113.84 L321.28,114.43 L321.96,115.00 L322.63,115.57 L323.30,116.12 L323.97,116.66 L324.64,117.20 L325.31,117.74 L325.99,118.28 L326.66,118.82 L327.33,119.35 L328.00,119.87 L328.67,120.36 L329.35,120.82 L330.02,121.26 L330.69,121.68 L331.36,122.07 L332.03,122.45 L332.71,122.82 L333.38,123.17 L334.05,123.52 L334.72,123.86 L335.39,124.20 L336.06,124.53 L336.74,124.85 L337.41,125.17 L338.08,125.47 L338.75,125.75 L339.42,126.01 L340.10,126.24 L340.77,126.45 L341.44,126.64 L342.11,126.80 L342.78,126.95 L343.45,127.09 L344.13,127.23 L344.80,127.37 L345.47,127.52 L346.14,127.68 L346.81,127.83 L347.49,127.99 L348.16,128.14 L348.83,128.29 L349.50,128.44 L350.17,128.57 L350.85,128.70 L351.52,128.83 L352.19,128.94 L352.86,129.05 L353.53,129.16 L354.20,129.26 L354.88,129.36 L355.55,129.45 L356.22,129.53 L356.89,129.61 L357.56,129.69 L358.24,129.76 L358.91,129.82 L359.58,129.88 L360.25,129.92 L360.92,129.96 L361.59,129.99 L362.27,130.01 L362.94,130.03 L363.61,130.05 L364.28,130.06 L364.95,130.08 L365.63,130.09 L366.30,130.10 L366.97,130.11 L367.64,130.13 L368.31,130.14 L368.99,130.14 L369.66,130.15 L370.33,130.16 L371.00,130.17 L371.67,130.17 L372.34,130.17 L373.02,130.18 L373.69,130.18 L374.36,130.18 L375.03,130.18 L375.70,130.18 L376.38,130.18 L377.05,130.18 L377.72,130.18 L378.39,130.18 L379.06,130.18 L379.74,130.18 L380.41,130.18 L381.08,130.18 L381.75,130.18 L382.42,130.18 L383.09,130.18 L383.77,130.18 L384.44,130.18 L385.11,130.18 L385.78,130.18 L386.45,130.18 L387.13,130.19 L387.80,130.20 L388.47,130.22 L389.14,130.24 L389.81,130.27 L390.48,130.30 L391.16,130.34 L391.83,130.39 L392.50,130.43 L393.17,130.48 L393.84,130.53 L394.52,130.58 L395.19,130.63 L395.86,130.68 L396.53,130.73 L397.20,130.77 L397.88,130.81 L398.55,130.85 L399.22,130.89 L399.89,130.92 L400.56,130.95 L401.23,130.98 L401.91,131.02 L402.58,131.05 L403.25,131.08 L403.92,131.11 L404.59,131.14 L405.27,131.17 L405.94,131.19 L406.61,131.22 L407.28,131.25 L407.95,131.28 L408.63,131.30 L409.30,131.33 L409.97,131.36 L410.64,131.38 L411.31,131.41 L411.98,131.43 L412.66,131.45 L413.33,131.48 L414.00,131.50" fill="none" stroke="#1a1a1a" stroke-width="1.3" stroke-linejoin="round"/>
<path d="M309.3,142.0h0M309.2,141.7h0M310.4,146.3h0M305.6,141.4h0M300.2,142.0h0M340.0,141.8h0M323.1,141.3h0M314.0,140.6h0M303.9,136.8h0M297.8,138.9h0M297.6,138.4h0M311.0,138.2h0M313.2,146.3h0M318.1,136.1h0M327.3,137.5h0M300.7,142.4h0M318.8,139.2h0M301.6,138.1h0M310.5,140.1h0M303.4,142.0h0M297.4,144.6h0M323.4,149.2h0M315.2,147.4h0M327.0,140.9h0M307.0,141.3h0M331.8,140.7h0M316.3,138.0h0M318.1,148.9h0M315.1,135.4h0M324.6,137.5h0M333.4,144.5h0M294.4,143.4h0M316.5,138.6h0M305.9,148.6h0M297.5,140.6h0M303.8,143.5h0M306.6,135.8h0M329.0,147.9h0M339.9,136.0h0M326.0,140.4h0M309.6,147.9h0M312.6,148.8h0M314.5,148.1h0M308.7,147.0h0M313.8,137.9h0M331.0,134.9h0M295.1,141.3h0M307.9,135.4h0M315.9,149.0h0M324.7,134.5h0M323.1,139.3h0M327.6,137.5h0M297.7,134.6h0M302.9,142.0h0M309.4,135.6h0M308.2,148.1h0M329.8,144.9h0M325.1,140.0h0M308.9,147.2h0M333.9,146.5h0M320.6,139.4h0M311.0,147.3h0M311.2,148.5h0M322.4,143.8h0M341.7,139.7h0M310.7,148.1h0M303.5,148.7h0M300.1,139.7h0M339.7,135.7h0M322.0,147.6h0M294.5,144.5h0M311.7,137.9h0M333.2,143.0h0M323.8,139.1h0M294.2,148.4h0M313.0,139.6h0M322.6,137.4h0M325.3,135.1h0M314.9,139.6h0M303.4,149.4h0M315.4,137.7h0M327.1,141.4h0M318.1,149.2h0M295.6,134.5h0M306.0,138.9h0M293.8,146.9h0M303.5,135.9h0M304.1,148.5h0M313.5,147.1h0M309.9,136.6h0M355.6,134.3h0M364.8,136.8h0M378.0,135.5h0M372.3,143.7h0M394.6,138.3h0M389.1,148.7h0M351.2,142.7h0" stroke="#B5442E" stroke-width="2.0" stroke-linecap="round" fill="none"/>
<rect x="290.68" y="133.8" width="57.38" height="15.60" fill="none" stroke="#262626" stroke-width="1.35"/>
<path d="M319.65,133.8V149.4" stroke="#262626" stroke-width="1.35"/>
<rect x="280.3" y="109.0" width="218.60" height="63.20" fill="none" stroke="#a8a8a8" stroke-width="0.9"/>
<path d="M280.30,109.0v2.2M307.62,109.0v2.2M334.95,109.0v2.2M362.27,109.0v2.2M389.60,109.0v2.2M416.92,109.0v2.2M444.25,109.0v2.2M471.57,109.0v2.2M498.90,109.0v2.2M280.30,172.2v-2.2M307.62,172.2v-2.2M334.95,172.2v-2.2M362.27,172.2v-2.2M389.60,172.2v-2.2M416.92,172.2v-2.2M444.25,172.2v-2.2M471.57,172.2v-2.2M498.90,172.2v-2.2" stroke="#a8a8a8" stroke-width="1" fill="none"/>
</g>
<g>
<rect x="532.5" y="108.5" width="146.40" height="64.40" fill="none" stroke="#a8a8a8" stroke-width="0.9"/>
<path d="M532.50,108.5v2.2M581.10,108.5v2.2M629.70,108.5v2.2M678.30,108.5v2.2M532.50,172.9v-2.2M581.10,172.9v-2.2M629.70,172.9v-2.2M678.30,172.9v-2.2M532.5,140.70h2.2M678.9,140.70h-2.2" stroke="#a8a8a8" stroke-width="1" fill="none"/>
<path d="M532.5,140.70H567.49" stroke="#7c7c7c" stroke-width="0.8" fill="none" stroke-dasharray="5,3"/>
<path d="M567.49,140.70V172.9" stroke="#b4b4b4" stroke-width="0.9" fill="none" stroke-dasharray="5,3"/>
<path d="M532.50,108.50 L533.71,108.53 L534.92,108.62 L536.13,108.79 L537.34,109.04 L538.55,109.36 L539.76,109.77 L540.97,110.26 L542.18,110.84 L543.39,111.51 L544.60,112.27 L545.81,113.11 L547.02,114.05 L548.23,115.07 L549.44,116.19 L550.65,117.40 L551.86,118.70 L553.07,120.09 L554.28,121.57 L555.49,123.13 L556.70,124.78 L557.91,126.52 L559.12,128.33 L560.32,130.21 L561.53,132.16 L562.74,134.17 L563.95,136.24 L565.16,138.35 L566.37,140.50 L567.58,142.67 L568.79,144.86 L570.00,147.04 L571.21,149.21 L572.42,151.35 L573.63,153.44 L574.84,155.48 L576.05,157.44 L577.26,159.31 L578.47,161.08 L579.68,162.73 L580.89,164.26 L582.10,165.65 L583.31,166.91 L584.52,168.02 L585.73,168.99 L586.94,169.82 L588.15,170.52 L589.36,171.10 L590.57,171.57 L591.78,171.94 L592.99,172.22 L594.20,172.43 L595.41,172.59 L596.62,172.70 L597.83,172.77 L599.04,172.82 L600.25,172.86 L601.46,172.87 L602.67,172.89 L603.88,172.89 L605.09,172.90 L606.30,172.90 L607.51,172.90 L608.72,172.90 L609.93,172.90 L611.14,172.90 L612.35,172.90 L613.56,172.90 L614.76,172.90 L615.97,172.90 L617.18,172.90 L618.39,172.90 L619.60,172.90 L620.81,172.90 L622.02,172.90 L623.23,172.90 L624.44,172.90 L625.65,172.90 L626.86,172.90 L628.07,172.90 L629.28,172.90 L630.49,172.90 L631.70,172.90 L632.91,172.90 L634.12,172.90 L635.33,172.90 L636.54,172.90 L637.75,172.90 L638.96,172.90 L640.17,172.90 L641.38,172.90 L642.59,172.90 L643.80,172.90 L645.01,172.90 L646.22,172.90 L647.43,172.90 L648.64,172.90 L649.85,172.90 L651.06,172.90 L652.27,172.90 L653.48,172.90 L654.69,172.90 L655.90,172.90 L657.11,172.90 L658.32,172.90 L659.53,172.90 L660.74,172.90 L661.95,172.90 L663.16,172.90 L664.37,172.90 L665.58,172.90 L666.79,172.90 L668.00,172.90 L669.20,172.90 L670.41,172.90 L671.62,172.90 L672.83,172.90 L674.04,172.90 L675.25,172.90 L676.46,172.90 L677.67,172.90 L678.88,172.90" fill="none" stroke="#0a0a0a" stroke-width="1.85" stroke-linejoin="round"/>
<text x="568.3" y="140.8" font-size="11.5px" fill="#1a1a1a">7.2y</text>
<g font-weight="bold" font-size="11.5px" fill="#000">
<text x="529.3" y="114.5" text-anchor="end">1</text>
<text x="529.3" y="145.1" text-anchor="end">0.5</text>
<text x="530.2" y="175.8" text-anchor="end">0</text>
<text x="533.3" y="183.2" text-anchor="middle">0</text>
<text x="580.3" y="183.2" text-anchor="middle">10</text>
<text x="629.4" y="183.2" text-anchor="middle">20</text>
<text x="677.0" y="183.2" text-anchor="middle">30</text>
</g></g>
<g>
<path d="M33.0,222.5H251.5" stroke="#b4b4b4" stroke-width="1"/>
<path d="M97.40,222.50 L98.07,222.48 L98.74,222.45 L99.41,222.41 L100.08,222.38 L100.75,222.34 L101.42,222.29 L102.09,222.25 L102.76,222.19 L103.43,222.14 L104.10,222.08 L104.77,222.02 L105.44,221.96 L106.11,221.90 L106.78,221.83 L107.46,221.76 L108.13,221.69 L108.80,221.62 L109.47,221.54 L110.14,221.47 L110.81,221.39 L111.48,221.30 L112.15,221.21 L112.82,221.12 L113.49,221.01 L114.16,220.91 L114.83,220.79 L115.50,220.68 L116.17,220.55 L116.84,220.42 L117.51,220.27 L118.18,220.10 L118.85,219.91 L119.52,219.71 L120.19,219.48 L120.86,219.22 L121.53,218.94 L122.20,218.63 L122.87,218.31 L123.54,217.97 L124.21,217.62 L124.88,217.27 L125.55,216.91 L126.23,216.56 L126.90,216.21 L127.57,215.87 L128.24,215.54 L128.91,215.22 L129.58,214.91 L130.25,214.60 L130.92,214.29 L131.59,213.99 L132.26,213.68 L132.93,213.38 L133.60,213.08 L134.27,212.78 L134.94,212.47 L135.61,212.17 L136.28,211.87 L136.95,211.57 L137.62,211.27 L138.29,210.97 L138.96,210.67 L139.63,210.36 L140.30,210.06 L140.97,209.76 L141.64,209.46 L142.31,209.16 L142.98,208.85 L143.65,208.55 L144.32,208.25 L144.99,207.96 L145.67,207.66 L146.34,207.37 L147.01,207.07 L147.68,206.78 L148.35,206.48 L149.02,206.18 L149.69,205.89 L150.36,205.59 L151.03,205.29 L151.70,205.00 L152.37,204.72 L153.04,204.45 L153.71,204.19 L154.38,203.94 L155.05,203.70 L155.72,203.47 L156.39,203.25 L157.06,203.04 L157.73,202.84 L158.40,202.66 L159.07,202.48 L159.74,202.32 L160.41,202.17 L161.08,202.03 L161.75,201.91 L162.42,201.82 L163.09,201.78 L163.76,201.79 L164.44,201.85 L165.11,201.95 L165.78,202.10 L166.45,202.26 L167.12,202.45 L167.79,202.66 L168.46,202.88 L169.13,203.14 L169.80,203.42 L170.47,203.73 L171.14,204.07 L171.81,204.43 L172.48,204.81 L173.15,205.21 L173.82,205.61 L174.49,206.02 L175.16,206.42 L175.83,206.83 L176.50,207.22 L177.17,207.62 L177.84,208.01 L178.51,208.41 L179.18,208.81 L179.85,209.22 L180.52,209.63 L181.19,210.05 L181.86,210.46 L182.53,210.87 L183.21,211.27 L183.88,211.67 L184.55,212.05 L185.22,212.43 L185.89,212.81 L186.56,213.17 L187.23,213.54 L187.90,213.90 L188.57,214.26 L189.24,214.61 L189.91,214.96 L190.58,215.30 L191.25,215.63 L191.92,215.95 L192.59,216.25 L193.26,216.55 L193.93,216.83 L194.60,217.11 L195.27,217.37 L195.94,217.63 L196.61,217.88 L197.28,218.13 L197.95,218.37 L198.62,218.60 L199.29,218.82 L199.96,219.04 L200.63,219.24 L201.30,219.43 L201.97,219.61 L202.65,219.78 L203.32,219.94 L203.99,220.09 L204.66,220.23 L205.33,220.35 L206.00,220.47 L206.67,220.58 L207.34,220.68 L208.01,220.78 L208.68,220.87 L209.35,220.96 L210.02,221.05 L210.69,221.13 L211.36,221.21 L212.03,221.29 L212.70,221.37 L213.37,221.44 L214.04,221.51 L214.71,221.58 L215.38,221.64 L216.05,221.71 L216.72,221.77 L217.39,221.82 L218.06,221.88 L218.73,221.93 L219.40,221.98 L220.07,222.02 L220.74,222.07 L221.42,222.11 L222.09,222.14 L222.76,222.18 L223.43,222.22 L224.10,222.25 L224.77,222.29 L225.44,222.32 L226.11,222.35 L226.78,222.38 L227.45,222.40 L228.12,222.43 L228.79,222.45 L229.46,222.47 L230.13,222.48 L230.80,222.50 L230.80,223.05 L97.40,223.05Z" fill="#EDCE69"/>
<path d="M97.40,222.50 L98.07,222.48 L98.74,222.45 L99.41,222.41 L100.08,222.38 L100.75,222.34 L101.42,222.29 L102.09,222.25 L102.76,222.19 L103.43,222.14 L104.10,222.08 L104.77,222.02 L105.44,221.96 L106.11,221.90 L106.78,221.83 L107.46,221.76 L108.13,221.69 L108.80,221.62 L109.47,221.54 L110.14,221.47 L110.81,221.39 L111.48,221.30 L112.15,221.21 L112.82,221.12 L113.49,221.01 L114.16,220.91 L114.83,220.79 L115.50,220.68 L116.17,220.55 L116.84,220.42 L117.51,220.27 L118.18,220.10 L118.85,219.91 L119.52,219.71 L120.19,219.48 L120.86,219.22 L121.53,218.94 L122.20,218.63 L122.87,218.31 L123.54,217.97 L124.21,217.62 L124.88,217.27 L125.55,216.91 L126.23,216.56 L126.90,216.21 L127.57,215.87 L128.24,215.54 L128.91,215.22 L129.58,214.91 L130.25,214.60 L130.92,214.29 L131.59,213.99 L132.26,213.68 L132.93,213.38 L133.60,213.08 L134.27,212.78 L134.94,212.47 L135.61,212.17 L136.28,211.87 L136.95,211.57 L137.62,211.27 L138.29,210.97 L138.96,210.67 L139.63,210.36 L140.30,210.06 L140.97,209.76 L141.64,209.46 L142.31,209.16 L142.98,208.85 L143.65,208.55 L144.32,208.25 L144.99,207.96 L145.67,207.66 L146.34,207.37 L147.01,207.07 L147.68,206.78 L148.35,206.48 L149.02,206.18 L149.69,205.89 L150.36,205.59 L151.03,205.29 L151.70,205.00 L152.37,204.72 L153.04,204.45 L153.71,204.19 L154.38,203.94 L155.05,203.70 L155.72,203.47 L156.39,203.25 L157.06,203.04 L157.73,202.84 L158.40,202.66 L159.07,202.48 L159.74,202.32 L160.41,202.17 L161.08,202.03 L161.75,201.91 L162.42,201.82 L163.09,201.78 L163.76,201.79 L164.44,201.85 L165.11,201.95 L165.78,202.10 L166.45,202.26 L167.12,202.45 L167.79,202.66 L168.46,202.88 L169.13,203.14 L169.80,203.42 L170.47,203.73 L171.14,204.07 L171.81,204.43 L172.48,204.81 L173.15,205.21 L173.82,205.61 L174.49,206.02 L175.16,206.42 L175.83,206.83 L176.50,207.22 L177.17,207.62 L177.84,208.01 L178.51,208.41 L179.18,208.81 L179.85,209.22 L180.52,209.63 L181.19,210.05 L181.86,210.46 L182.53,210.87 L183.21,211.27 L183.88,211.67 L184.55,212.05 L185.22,212.43 L185.89,212.81 L186.56,213.17 L187.23,213.54 L187.90,213.90 L188.57,214.26 L189.24,214.61 L189.91,214.96 L190.58,215.30 L191.25,215.63 L191.92,215.95 L192.59,216.25 L193.26,216.55 L193.93,216.83 L194.60,217.11 L195.27,217.37 L195.94,217.63 L196.61,217.88 L197.28,218.13 L197.95,218.37 L198.62,218.60 L199.29,218.82 L199.96,219.04 L200.63,219.24 L201.30,219.43 L201.97,219.61 L202.65,219.78 L203.32,219.94 L203.99,220.09 L204.66,220.23 L205.33,220.35 L206.00,220.47 L206.67,220.58 L207.34,220.68 L208.01,220.78 L208.68,220.87 L209.35,220.96 L210.02,221.05 L210.69,221.13 L211.36,221.21 L212.03,221.29 L212.70,221.37 L213.37,221.44 L214.04,221.51 L214.71,221.58 L215.38,221.64 L216.05,221.71 L216.72,221.77 L217.39,221.82 L218.06,221.88 L218.73,221.93 L219.40,221.98 L220.07,222.02 L220.74,222.07 L221.42,222.11 L222.09,222.14 L222.76,222.18 L223.43,222.22 L224.10,222.25 L224.77,222.29 L225.44,222.32 L226.11,222.35 L226.78,222.38 L227.45,222.40 L228.12,222.43 L228.79,222.45 L229.46,222.47 L230.13,222.48 L230.80,222.50" fill="none" stroke="#1a1a1a" stroke-width="1.3" stroke-linejoin="round"/>
<path d="M166.5,236.7h0M164.2,235.9h0M173.2,227.3h0M148.0,233.4h0M153.4,235.9h0M142.9,230.5h0M146.9,233.1h0M137.2,240.2h0M193.3,235.1h0M190.9,233.0h0M151.8,226.4h0M173.1,227.2h0M160.2,238.3h0M146.1,236.7h0M151.1,238.1h0M150.5,234.2h0M165.7,234.2h0M200.7,233.5h0M147.3,236.6h0M182.3,230.4h0M130.8,232.9h0M176.1,232.5h0M182.1,235.5h0M185.1,228.7h0M174.4,225.8h0M145.9,226.7h0M162.2,228.1h0M140.7,238.4h0M127.0,236.3h0M157.0,236.8h0M175.0,232.2h0M179.6,227.0h0M200.0,232.5h0M143.4,238.5h0M146.9,233.1h0M184.6,235.0h0M191.8,231.1h0M176.3,227.7h0M149.9,234.9h0M158.5,232.8h0M184.8,230.7h0M151.6,229.3h0M182.0,236.0h0M179.9,230.2h0M158.9,234.2h0M192.1,229.3h0M153.4,236.9h0M177.3,231.1h0M169.5,232.7h0M149.8,239.5h0M162.8,236.3h0M167.4,236.6h0M163.1,230.6h0M130.4,238.2h0M200.5,231.3h0M162.8,240.4h0M132.1,239.0h0M183.4,235.4h0M156.6,238.0h0M174.6,233.7h0M184.1,236.5h0M163.2,227.3h0M183.6,240.4h0M173.2,237.6h0M194.1,227.6h0M145.2,229.1h0M180.2,234.1h0M189.1,237.0h0M151.4,227.7h0M155.1,240.0h0M150.0,230.7h0M142.2,240.5h0M149.8,236.8h0M130.2,232.8h0M178.6,230.9h0M156.2,226.9h0M165.0,226.7h0M146.4,235.0h0M151.8,237.2h0M177.6,239.2h0M158.9,230.9h0M166.8,239.7h0M155.9,229.9h0M164.3,239.7h0M192.2,239.4h0M145.0,227.8h0M162.0,238.5h0M172.7,236.1h0M127.4,236.1h0M160.7,238.2h0M143.3,233.6h0M178.2,233.1h0M182.9,231.0h0M168.9,238.6h0M195.1,239.1h0M127.7,227.8h0M162.5,237.1h0M176.8,229.6h0M195.2,228.2h0M169.6,228.4h0M122.2,228.0h0M205.1,228.0h0M205.1,233.5h0M203.8,231.0h0" stroke="#A08E44" stroke-width="2.0" stroke-linecap="round" fill="none"/>
<rect x="124.77" y="224.8" width="77.45" height="15.60" fill="none" stroke="#262626" stroke-width="1.35"/>
<path d="M163.37,224.8V240.4" stroke="#262626" stroke-width="1.35"/>
<rect x="33.0" y="199.5" width="218.50" height="63.70" fill="none" stroke="#a8a8a8" stroke-width="0.9"/>
<path d="M33.00,199.5v2.2M57.28,199.5v2.2M81.56,199.5v2.2M105.83,199.5v2.2M130.11,199.5v2.2M154.39,199.5v2.2M178.67,199.5v2.2M202.94,199.5v2.2M227.22,199.5v2.2M251.50,199.5v2.2M33.00,263.2v-2.2M57.28,263.2v-2.2M81.56,263.2v-2.2M105.83,263.2v-2.2M130.11,263.2v-2.2M154.39,263.2v-2.2M178.67,263.2v-2.2M202.94,263.2v-2.2M227.22,263.2v-2.2M251.50,263.2v-2.2" stroke="#a8a8a8" stroke-width="1" fill="none"/>
</g>
<g font-weight="bold" font-size="11.5px" fill="#000" text-anchor="middle">
<text x="33.4" y="274.2">20</text>
<text x="57.7" y="274.2">30</text>
<text x="82.0" y="274.2">40</text>
<text x="106.2" y="274.2">50</text>
<text x="130.5" y="274.2">60</text>
<text x="154.8" y="274.2">70</text>
<text x="179.1" y="274.2">80</text>
<text x="203.3" y="274.2">90</text>
<text x="226.3" y="274.2">100</text>
<text x="251.9" y="274.2">110</text>
<text x="280.3" y="274.2">0</text>
<text x="307.5" y="274.2">5</text>
<text x="334.6" y="274.2">10</text>
<text x="361.8" y="274.2">15</text>
<text x="389.0" y="274.2">20</text>
<text x="416.2" y="274.2">25</text>
<text x="443.4" y="274.2">30</text>
<text x="470.5" y="274.2">35</text>
<text x="495.2" y="274.2">40</text>
</g>
<text x="2.8" y="233.5" font-weight="bold" font-size="13px" fill="#000">PSP</text>
<g>
<path d="M280.3,222.5H498.9" stroke="#b4b4b4" stroke-width="1"/>
<path d="M280.30,219.80 L281.06,219.50 L281.82,219.22 L282.58,218.94 L283.34,218.65 L284.09,218.36 L284.85,218.07 L285.61,217.78 L286.37,217.50 L287.13,217.21 L287.89,216.93 L288.65,216.64 L289.41,216.35 L290.16,216.04 L290.92,215.73 L291.68,215.40 L292.44,215.05 L293.20,214.67 L293.96,214.28 L294.72,213.85 L295.48,213.41 L296.23,212.96 L296.99,212.50 L297.75,212.02 L298.51,211.54 L299.27,211.04 L300.03,210.53 L300.79,210.01 L301.55,209.47 L302.31,208.92 L303.06,208.36 L303.82,207.79 L304.58,207.22 L305.34,206.68 L306.10,206.15 L306.86,205.64 L307.62,205.16 L308.38,204.70 L309.13,204.27 L309.89,203.87 L310.65,203.49 L311.41,203.14 L312.17,202.83 L312.93,202.55 L313.69,202.31 L314.45,202.09 L315.20,201.91 L315.96,201.77 L316.72,201.70 L317.48,201.71 L318.24,201.79 L319.00,201.95 L319.76,202.17 L320.52,202.43 L321.27,202.74 L322.03,203.11 L322.79,203.54 L323.55,204.02 L324.31,204.54 L325.07,205.09 L325.83,205.66 L326.59,206.25 L327.35,206.85 L328.10,207.46 L328.86,208.08 L329.62,208.70 L330.38,209.31 L331.14,209.92 L331.90,210.51 L332.66,211.08 L333.42,211.64 L334.17,212.18 L334.93,212.69 L335.69,213.15 L336.45,213.58 L337.21,213.96 L337.97,214.31 L338.73,214.63 L339.49,214.92 L340.24,215.20 L341.00,215.45 L341.76,215.68 L342.52,215.90 L343.28,216.11 L344.04,216.31 L344.80,216.49 L345.56,216.67 L346.32,216.83 L347.07,216.99 L347.83,217.13 L348.59,217.27 L349.35,217.41 L350.11,217.53 L350.87,217.65 L351.63,217.77 L352.39,217.88 L353.14,217.99 L353.90,218.10 L354.66,218.20 L355.42,218.30 L356.18,218.39 L356.94,218.48 L357.70,218.57 L358.46,218.66 L359.21,218.74 L359.97,218.83 L360.73,218.90 L361.49,218.98 L362.25,219.05 L363.01,219.12 L363.77,219.19 L364.53,219.25 L365.28,219.31 L366.04,219.36 L366.80,219.42 L367.56,219.47 L368.32,219.53 L369.08,219.59 L369.84,219.66 L370.60,219.73 L371.36,219.81 L372.11,219.89 L372.87,219.99 L373.63,220.09 L374.39,220.21 L375.15,220.32 L375.91,220.43 L376.67,220.54 L377.43,220.66 L378.18,220.78 L378.94,220.91 L379.70,221.05 L380.46,221.20 L381.22,221.34 L381.98,221.48 L382.74,221.60 L383.50,221.70 L384.25,221.78 L385.01,221.85 L385.77,221.90 L386.53,221.96 L387.29,222.00 L388.05,222.05 L388.81,222.09 L389.57,222.12 L390.33,222.15 L391.08,222.18 L391.84,222.20 L392.60,222.22 L393.36,222.23 L394.12,222.23 L394.88,222.23 L395.64,222.23 L396.40,222.22 L397.15,222.21 L397.91,222.19 L398.67,222.18 L399.43,222.17 L400.19,222.15 L400.95,222.13 L401.71,222.12 L402.47,222.11 L403.22,222.09 L403.98,222.08 L404.74,222.07 L405.50,222.07 L406.26,222.06 L407.02,222.06 L407.78,222.06 L408.54,222.06 L409.29,222.06 L410.05,222.06 L410.81,222.06 L411.57,222.06 L412.33,222.06 L413.09,222.06 L413.85,222.06 L414.61,222.06 L415.37,222.06 L416.12,222.06 L416.88,222.06 L417.64,222.06 L418.40,222.06 L419.16,222.06 L419.92,222.07 L420.68,222.07 L421.44,222.08 L422.19,222.10 L422.95,222.11 L423.71,222.13 L424.47,222.15 L425.23,222.18 L425.99,222.20 L426.75,222.23 L427.51,222.26 L428.26,222.29 L429.02,222.32 L429.78,222.35 L430.54,222.38 L431.30,222.41 L431.30,223.05 L280.30,223.05Z" fill="#EDCE69"/>
<path d="M280.30,219.80 L281.06,219.50 L281.82,219.22 L282.58,218.94 L283.34,218.65 L284.09,218.36 L284.85,218.07 L285.61,217.78 L286.37,217.50 L287.13,217.21 L287.89,216.93 L288.65,216.64 L289.41,216.35 L290.16,216.04 L290.92,215.73 L291.68,215.40 L292.44,215.05 L293.20,214.67 L293.96,214.28 L294.72,213.85 L295.48,213.41 L296.23,212.96 L296.99,212.50 L297.75,212.02 L298.51,211.54 L299.27,211.04 L300.03,210.53 L300.79,210.01 L301.55,209.47 L302.31,208.92 L303.06,208.36 L303.82,207.79 L304.58,207.22 L305.34,206.68 L306.10,206.15 L306.86,205.64 L307.62,205.16 L308.38,204.70 L309.13,204.27 L309.89,203.87 L310.65,203.49 L311.41,203.14 L312.17,202.83 L312.93,202.55 L313.69,202.31 L314.45,202.09 L315.20,201.91 L315.96,201.77 L316.72,201.70 L317.48,201.71 L318.24,201.79 L319.00,201.95 L319.76,202.17 L320.52,202.43 L321.27,202.74 L322.03,203.11 L322.79,203.54 L323.55,204.02 L324.31,204.54 L325.07,205.09 L325.83,205.66 L326.59,206.25 L327.35,206.85 L328.10,207.46 L328.86,208.08 L329.62,208.70 L330.38,209.31 L331.14,209.92 L331.90,210.51 L332.66,211.08 L333.42,211.64 L334.17,212.18 L334.93,212.69 L335.69,213.15 L336.45,213.58 L337.21,213.96 L337.97,214.31 L338.73,214.63 L339.49,214.92 L340.24,215.20 L341.00,215.45 L341.76,215.68 L342.52,215.90 L343.28,216.11 L344.04,216.31 L344.80,216.49 L345.56,216.67 L346.32,216.83 L347.07,216.99 L347.83,217.13 L348.59,217.27 L349.35,217.41 L350.11,217.53 L350.87,217.65 L351.63,217.77 L352.39,217.88 L353.14,217.99 L353.90,218.10 L354.66,218.20 L355.42,218.30 L356.18,218.39 L356.94,218.48 L357.70,218.57 L358.46,218.66 L359.21,218.74 L359.97,218.83 L360.73,218.90 L361.49,218.98 L362.25,219.05 L363.01,219.12 L363.77,219.19 L364.53,219.25 L365.28,219.31 L366.04,219.36 L366.80,219.42 L367.56,219.47 L368.32,219.53 L369.08,219.59 L369.84,219.66 L370.60,219.73 L371.36,219.81 L372.11,219.89 L372.87,219.99 L373.63,220.09 L374.39,220.21 L375.15,220.32 L375.91,220.43 L376.67,220.54 L377.43,220.66 L378.18,220.78 L378.94,220.91 L379.70,221.05 L380.46,221.20 L381.22,221.34 L381.98,221.48 L382.74,221.60 L383.50,221.70 L384.25,221.78 L385.01,221.85 L385.77,221.90 L386.53,221.96 L387.29,222.00 L388.05,222.05 L388.81,222.09 L389.57,222.12 L390.33,222.15 L391.08,222.18 L391.84,222.20 L392.60,222.22 L393.36,222.23 L394.12,222.23 L394.88,222.23 L395.64,222.23 L396.40,222.22 L397.15,222.21 L397.91,222.19 L398.67,222.18 L399.43,222.17 L400.19,222.15 L400.95,222.13 L401.71,222.12 L402.47,222.11 L403.22,222.09 L403.98,222.08 L404.74,222.07 L405.50,222.07 L406.26,222.06 L407.02,222.06 L407.78,222.06 L408.54,222.06 L409.29,222.06 L410.05,222.06 L410.81,222.06 L411.57,222.06 L412.33,222.06 L413.09,222.06 L413.85,222.06 L414.61,222.06 L415.37,222.06 L416.12,222.06 L416.88,222.06 L417.64,222.06 L418.40,222.06 L419.16,222.06 L419.92,222.07 L420.68,222.07 L421.44,222.08 L422.19,222.10 L422.95,222.11 L423.71,222.13 L424.47,222.15 L425.23,222.18 L425.99,222.20 L426.75,222.23 L427.51,222.26 L428.26,222.29 L429.02,222.32 L429.78,222.35 L430.54,222.38 L431.30,222.41" fill="none" stroke="#1a1a1a" stroke-width="1.3" stroke-linejoin="round"/>
<path d="M324.0,234.7h0M307.6,235.5h0M307.6,234.7h0M296.7,229.3h0M313.1,231.1h0M334.9,238.2h0M285.8,239.8h0M318.6,228.2h0M324.0,225.6h0M291.2,240.0h0M307.6,238.5h0M356.8,234.6h0M345.9,237.8h0M302.2,234.4h0M334.9,239.2h0M318.6,229.1h0M302.2,232.2h0M318.6,235.6h0M351.3,228.7h0M313.1,236.3h0M291.2,229.4h0M356.8,236.2h0M318.6,237.6h0M307.6,231.8h0M318.6,240.4h0M329.5,235.0h0M318.6,236.9h0M313.1,225.7h0M307.6,227.1h0M307.6,236.2h0M291.2,239.7h0M307.6,234.9h0M329.5,239.3h0M334.9,226.3h0M313.1,239.0h0M324.0,238.7h0M307.6,235.0h0M329.5,231.9h0M329.5,236.1h0M329.5,229.1h0M318.6,235.5h0M345.9,236.0h0M324.0,233.6h0M329.5,229.4h0M307.6,225.4h0M324.0,228.4h0M351.3,238.1h0M307.6,228.6h0M296.7,226.5h0M318.6,229.1h0M296.7,233.3h0M302.2,234.3h0M334.9,238.7h0M291.2,238.4h0M313.1,240.1h0M302.2,238.8h0M345.9,232.2h0M296.7,227.6h0M313.1,239.9h0M345.9,228.9h0M329.5,234.9h0M329.5,229.4h0M285.8,237.8h0M329.5,228.5h0M334.9,231.8h0M334.9,228.7h0M329.5,238.5h0M291.2,234.8h0M296.7,235.0h0M334.9,230.2h0M324.0,228.1h0M307.6,238.4h0M318.6,237.0h0M296.7,236.6h0M334.9,240.6h0M313.1,233.9h0M340.4,228.1h0M296.7,234.7h0M318.6,229.8h0M296.7,233.2h0M334.9,232.4h0M324.0,234.0h0M307.6,239.4h0M329.5,237.7h0M313.1,231.7h0M345.9,237.8h0M313.1,238.5h0M307.6,237.2h0M291.2,233.8h0M329.5,239.1h0M307.6,232.9h0M313.1,227.0h0M324.0,229.5h0M291.2,235.4h0M307.6,231.2h0M296.7,231.8h0M334.9,231.5h0M307.6,228.3h0M318.6,226.8h0M313.1,226.1h0M367.3,226.3h0M372.3,225.8h0M372.3,227.6h0M378.0,233.7h0M411.0,237.7h0" stroke="#A08E44" stroke-width="2.0" stroke-linecap="round" fill="none"/>
<rect x="280.30" y="224.8" width="81.97" height="15.60" fill="none" stroke="#262626" stroke-width="1.35"/>
<path d="M320.19,224.8V240.4" stroke="#262626" stroke-width="1.35"/>
<rect x="280.3" y="199.5" width="218.60" height="63.70" fill="none" stroke="#a8a8a8" stroke-width="0.9"/>
<path d="M280.30,199.5v2.2M307.62,199.5v2.2M334.95,199.5v2.2M362.27,199.5v2.2M389.60,199.5v2.2M416.92,199.5v2.2M444.25,199.5v2.2M471.57,199.5v2.2M498.90,199.5v2.2M280.30,263.2v-2.2M307.62,263.2v-2.2M334.95,263.2v-2.2M362.27,263.2v-2.2M389.60,263.2v-2.2M416.92,263.2v-2.2M444.25,263.2v-2.2M471.57,263.2v-2.2M498.90,263.2v-2.2" stroke="#a8a8a8" stroke-width="1" fill="none"/>
</g>
<g>
<rect x="532.5" y="198.5" width="146.40" height="64.40" fill="none" stroke="#a8a8a8" stroke-width="0.9"/>
<path d="M532.50,198.5v2.2M581.10,198.5v2.2M629.70,198.5v2.2M678.30,198.5v2.2M532.50,262.9v-2.2M581.10,262.9v-2.2M629.70,262.9v-2.2M678.30,262.9v-2.2M532.5,230.70h2.2M678.9,230.70h-2.2" stroke="#a8a8a8" stroke-width="1" fill="none"/>
<path d="M532.5,230.70H568.95" stroke="#7c7c7c" stroke-width="0.8" fill="none" stroke-dasharray="5,3"/>
<path d="M568.95,230.70V262.9" stroke="#b4b4b4" stroke-width="0.9" fill="none" stroke-dasharray="5,3"/>
<path d="M532.50,198.50 L533.71,199.00 L534.92,199.53 L536.13,200.10 L537.34,200.70 L538.55,201.33 L539.76,202.01 L540.97,202.72 L542.18,203.48 L543.39,204.27 L544.60,205.12 L545.81,206.00 L547.02,206.94 L548.23,207.92 L549.44,208.95 L550.65,210.03 L551.86,211.16 L553.07,212.35 L554.28,213.58 L555.49,214.86 L556.70,216.20 L557.91,217.58 L559.12,219.02 L560.32,220.49 L561.53,222.02 L562.74,223.58 L563.95,225.18 L565.16,226.81 L566.37,228.47 L567.58,230.15 L568.79,231.85 L570.00,233.56 L571.21,235.27 L572.42,236.98 L573.63,238.68 L574.84,240.36 L576.05,242.01 L577.26,243.63 L578.47,245.21 L579.68,246.73 L580.89,248.20 L582.10,249.61 L583.31,250.95 L584.52,252.21 L585.73,253.40 L586.94,254.50 L588.15,255.53 L589.36,256.46 L590.57,257.32 L591.78,258.10 L592.99,258.79 L594.20,259.41 L595.41,259.96 L596.62,260.44 L597.83,260.85 L599.04,261.21 L600.25,261.52 L601.46,261.78 L602.67,261.99 L603.88,262.17 L605.09,262.32 L606.30,262.44 L607.51,262.54 L608.72,262.62 L609.93,262.69 L611.14,262.74 L612.35,262.77 L613.56,262.81 L614.76,262.83 L615.97,262.85 L617.18,262.86 L618.39,262.87 L619.60,262.88 L620.81,262.88 L622.02,262.89 L623.23,262.89 L624.44,262.89 L625.65,262.90 L626.86,262.90 L628.07,262.90 L629.28,262.90 L630.49,262.90 L631.70,262.90 L632.91,262.90 L634.12,262.90 L635.33,262.90 L636.54,262.90 L637.75,262.90 L638.96,262.90 L640.17,262.90 L641.38,262.90 L642.59,262.90 L643.80,262.90 L645.01,262.90 L646.22,262.90 L647.43,262.90 L648.64,262.90 L649.85,262.90 L651.06,262.90 L652.27,262.90 L653.48,262.90 L654.69,262.90 L655.90,262.90 L657.11,262.90 L658.32,262.90 L659.53,262.90 L660.74,262.90 L661.95,262.90 L663.16,262.90 L664.37,262.90 L665.58,262.90 L666.79,262.90 L668.00,262.90 L669.20,262.90 L670.41,262.90 L671.62,262.90 L672.83,262.90 L674.04,262.90 L675.25,262.90 L676.46,262.90 L677.67,262.90 L678.88,262.90" fill="none" stroke="#0a0a0a" stroke-width="1.85" stroke-linejoin="round"/>
<text x="569.7" y="230.8" font-size="11.5px" fill="#1a1a1a">7.5y</text>
<g font-weight="bold" font-size="11.5px" fill="#000">
<text x="529.3" y="204.5" text-anchor="end">1</text>
<text x="529.3" y="235.1" text-anchor="end">0.5</text>
<text x="530.2" y="265.8" text-anchor="end">0</text>
<text x="533.3" y="273.2" text-anchor="middle">0</text>
<text x="580.3" y="273.2" text-anchor="middle">10</text>
<text x="629.4" y="273.2" text-anchor="middle">20</text>
<text x="677.0" y="273.2" text-anchor="middle">30</text>
</g></g>
<g>
<path d="M33.0,312.7H251.5" stroke="#b4b4b4" stroke-width="1"/>
<path d="M103.20,312.70 L103.90,312.69 L104.59,312.68 L105.29,312.66 L105.98,312.64 L106.68,312.62 L107.37,312.59 L108.07,312.56 L108.76,312.53 L109.46,312.49 L110.15,312.45 L110.85,312.40 L111.55,312.36 L112.24,312.31 L112.94,312.26 L113.63,312.21 L114.33,312.16 L115.02,312.10 L115.72,312.04 L116.41,311.99 L117.11,311.93 L117.81,311.87 L118.50,311.81 L119.20,311.74 L119.89,311.67 L120.59,311.59 L121.28,311.51 L121.98,311.42 L122.67,311.33 L123.37,311.23 L124.06,311.13 L124.76,311.02 L125.46,310.90 L126.15,310.79 L126.85,310.67 L127.54,310.54 L128.24,310.40 L128.93,310.25 L129.63,310.10 L130.32,309.94 L131.02,309.77 L131.71,309.60 L132.41,309.41 L133.11,309.22 L133.80,309.01 L134.50,308.80 L135.19,308.58 L135.89,308.35 L136.58,308.12 L137.28,307.88 L137.97,307.63 L138.67,307.38 L139.36,307.13 L140.06,306.86 L140.76,306.60 L141.45,306.33 L142.15,306.05 L142.84,305.77 L143.54,305.48 L144.23,305.17 L144.93,304.84 L145.62,304.50 L146.32,304.14 L147.02,303.75 L147.71,303.33 L148.41,302.88 L149.10,302.40 L149.80,301.89 L150.49,301.37 L151.19,300.84 L151.88,300.31 L152.58,299.77 L153.27,299.21 L153.97,298.65 L154.67,298.08 L155.36,297.51 L156.06,296.97 L156.75,296.46 L157.45,296.00 L158.14,295.58 L158.84,295.20 L159.53,294.85 L160.23,294.53 L160.92,294.23 L161.62,293.96 L162.32,293.69 L163.01,293.44 L163.71,293.21 L164.40,292.98 L165.10,292.78 L165.79,292.60 L166.49,292.45 L167.18,292.33 L167.88,292.24 L168.57,292.18 L169.27,292.16 L169.97,292.18 L170.66,292.24 L171.36,292.33 L172.05,292.46 L172.75,292.62 L173.44,292.81 L174.14,293.03 L174.83,293.28 L175.53,293.54 L176.23,293.82 L176.92,294.11 L177.62,294.42 L178.31,294.73 L179.01,295.06 L179.70,295.41 L180.40,295.76 L181.09,296.13 L181.79,296.51 L182.48,296.91 L183.18,297.31 L183.88,297.70 L184.57,298.09 L185.27,298.46 L185.96,298.81 L186.66,299.14 L187.35,299.47 L188.05,299.78 L188.74,300.09 L189.44,300.39 L190.13,300.69 L190.83,300.97 L191.53,301.25 L192.22,301.52 L192.92,301.79 L193.61,302.04 L194.31,302.30 L195.00,302.55 L195.70,302.79 L196.39,303.03 L197.09,303.27 L197.78,303.50 L198.48,303.73 L199.18,303.95 L199.87,304.16 L200.57,304.36 L201.26,304.55 L201.96,304.72 L202.65,304.88 L203.35,305.03 L204.04,305.17 L204.74,305.29 L205.44,305.40 L206.13,305.51 L206.83,305.61 L207.52,305.70 L208.22,305.80 L208.91,305.90 L209.61,306.01 L210.30,306.13 L211.00,306.26 L211.69,306.40 L212.39,306.57 L213.09,306.75 L213.78,306.96 L214.48,307.18 L215.17,307.42 L215.87,307.66 L216.56,307.91 L217.26,308.16 L217.95,308.40 L218.65,308.64 L219.34,308.88 L220.04,309.11 L220.74,309.35 L221.43,309.58 L222.13,309.81 L222.82,310.04 L223.52,310.27 L224.21,310.48 L224.91,310.67 L225.60,310.84 L226.30,311.00 L226.99,311.15 L227.69,311.29 L228.39,311.43 L229.08,311.57 L229.78,311.70 L230.47,311.82 L231.17,311.93 L231.86,312.04 L232.56,312.13 L233.25,312.20 L233.95,312.27 L234.65,312.34 L235.34,312.39 L236.04,312.45 L236.73,312.50 L237.43,312.54 L238.12,312.58 L238.82,312.62 L239.51,312.65 L240.21,312.68 L240.90,312.69 L241.60,312.70 L241.60,313.25 L103.20,313.25Z" fill="#94EBA8"/>
<path d="M103.20,312.70 L103.90,312.69 L104.59,312.68 L105.29,312.66 L105.98,312.64 L106.68,312.62 L107.37,312.59 L108.07,312.56 L108.76,312.53 L109.46,312.49 L110.15,312.45 L110.85,312.40 L111.55,312.36 L112.24,312.31 L112.94,312.26 L113.63,312.21 L114.33,312.16 L115.02,312.10 L115.72,312.04 L116.41,311.99 L117.11,311.93 L117.81,311.87 L118.50,311.81 L119.20,311.74 L119.89,311.67 L120.59,311.59 L121.28,311.51 L121.98,311.42 L122.67,311.33 L123.37,311.23 L124.06,311.13 L124.76,311.02 L125.46,310.90 L126.15,310.79 L126.85,310.67 L127.54,310.54 L128.24,310.40 L128.93,310.25 L129.63,310.10 L130.32,309.94 L131.02,309.77 L131.71,309.60 L132.41,309.41 L133.11,309.22 L133.80,309.01 L134.50,308.80 L135.19,308.58 L135.89,308.35 L136.58,308.12 L137.28,307.88 L137.97,307.63 L138.67,307.38 L139.36,307.13 L140.06,306.86 L140.76,306.60 L141.45,306.33 L142.15,306.05 L142.84,305.77 L143.54,305.48 L144.23,305.17 L144.93,304.84 L145.62,304.50 L146.32,304.14 L147.02,303.75 L147.71,303.33 L148.41,302.88 L149.10,302.40 L149.80,301.89 L150.49,301.37 L151.19,300.84 L151.88,300.31 L152.58,299.77 L153.27,299.21 L153.97,298.65 L154.67,298.08 L155.36,297.51 L156.06,296.97 L156.75,296.46 L157.45,296.00 L158.14,295.58 L158.84,295.20 L159.53,294.85 L160.23,294.53 L160.92,294.23 L161.62,293.96 L162.32,293.69 L163.01,293.44 L163.71,293.21 L164.40,292.98 L165.10,292.78 L165.79,292.60 L166.49,292.45 L167.18,292.33 L167.88,292.24 L168.57,292.18 L169.27,292.16 L169.97,292.18 L170.66,292.24 L171.36,292.33 L172.05,292.46 L172.75,292.62 L173.44,292.81 L174.14,293.03 L174.83,293.28 L175.53,293.54 L176.23,293.82 L176.92,294.11 L177.62,294.42 L178.31,294.73 L179.01,295.06 L179.70,295.41 L180.40,295.76 L181.09,296.13 L181.79,296.51 L182.48,296.91 L183.18,297.31 L183.88,297.70 L184.57,298.09 L185.27,298.46 L185.96,298.81 L186.66,299.14 L187.35,299.47 L188.05,299.78 L188.74,300.09 L189.44,300.39 L190.13,300.69 L190.83,300.97 L191.53,301.25 L192.22,301.52 L192.92,301.79 L193.61,302.04 L194.31,302.30 L195.00,302.55 L195.70,302.79 L196.39,303.03 L197.09,303.27 L197.78,303.50 L198.48,303.73 L199.18,303.95 L199.87,304.16 L200.57,304.36 L201.26,304.55 L201.96,304.72 L202.65,304.88 L203.35,305.03 L204.04,305.17 L204.74,305.29 L205.44,305.40 L206.13,305.51 L206.83,305.61 L207.52,305.70 L208.22,305.80 L208.91,305.90 L209.61,306.01 L210.30,306.13 L211.00,306.26 L211.69,306.40 L212.39,306.57 L213.09,306.75 L213.78,306.96 L214.48,307.18 L215.17,307.42 L215.87,307.66 L216.56,307.91 L217.26,308.16 L217.95,308.40 L218.65,308.64 L219.34,308.88 L220.04,309.11 L220.74,309.35 L221.43,309.58 L222.13,309.81 L222.82,310.04 L223.52,310.27 L224.21,310.48 L224.91,310.67 L225.60,310.84 L226.30,311.00 L226.99,311.15 L227.69,311.29 L228.39,311.43 L229.08,311.57 L229.78,311.70 L230.47,311.82 L231.17,311.93 L231.86,312.04 L232.56,312.13 L233.25,312.20 L233.95,312.27 L234.65,312.34 L235.34,312.39 L236.04,312.45 L236.73,312.50 L237.43,312.54 L238.12,312.58 L238.82,312.62 L239.51,312.65 L240.21,312.68 L240.90,312.69 L241.60,312.70" fill="none" stroke="#1a1a1a" stroke-width="1.3" stroke-linejoin="round"/>
<path d="M185.0,326.3h0M161.3,330.6h0M169.9,325.9h0M215.1,329.4h0M181.4,324.2h0M198.4,326.6h0M193.2,328.5h0M134.9,317.3h0M165.3,323.0h0M170.4,325.0h0M150.5,316.8h0M209.2,327.7h0M167.0,326.6h0M173.2,329.9h0M215.3,321.5h0M153.6,322.9h0M166.1,329.6h0M155.8,322.1h0M154.8,328.4h0M173.9,322.2h0M170.6,321.0h0M207.9,320.1h0M147.3,319.1h0M179.9,322.4h0M195.2,318.3h0M171.4,328.3h0M180.5,330.5h0M182.6,317.4h0M155.7,316.7h0M161.8,316.0h0M172.2,329.9h0M153.9,317.0h0M153.5,326.1h0M161.1,320.5h0M168.8,318.9h0M169.3,319.6h0M175.9,326.2h0M171.0,316.2h0M157.3,328.9h0M190.5,324.4h0M132.1,327.3h0" stroke="#5E9E70" stroke-width="2.0" stroke-linecap="round" fill="none"/>
<rect x="133.51" y="315.3" width="83.27" height="15.40" fill="none" stroke="#262626" stroke-width="1.35"/>
<path d="M174.78,315.3V330.7" stroke="#262626" stroke-width="1.35"/>
<rect x="33.0" y="290.5" width="218.50" height="63.50" fill="none" stroke="#a8a8a8" stroke-width="0.9"/>
<path d="M33.00,290.5v2.2M57.28,290.5v2.2M81.56,290.5v2.2M105.83,290.5v2.2M130.11,290.5v2.2M154.39,290.5v2.2M178.67,290.5v2.2M202.94,290.5v2.2M227.22,290.5v2.2M251.50,290.5v2.2M33.00,354.0v-2.2M57.28,354.0v-2.2M81.56,354.0v-2.2M105.83,354.0v-2.2M130.11,354.0v-2.2M154.39,354.0v-2.2M178.67,354.0v-2.2M202.94,354.0v-2.2M227.22,354.0v-2.2M251.50,354.0v-2.2" stroke="#a8a8a8" stroke-width="1" fill="none"/>
</g>
<g font-weight="bold" font-size="11.5px" fill="#000" text-anchor="middle">
<text x="32.1" y="364.6">20</text>
<text x="56.4" y="364.6">30</text>
<text x="80.7" y="364.6">40</text>
<text x="104.9" y="364.6">50</text>
<text x="129.2" y="364.6">60</text>
<text x="153.5" y="364.6">70</text>
<text x="177.8" y="364.6">80</text>
<text x="202.0" y="364.6">90</text>
<text x="225.0" y="364.6">100</text>
<text x="250.6" y="364.6">110</text>
<text x="280.3" y="364.6">0</text>
<text x="307.5" y="364.6">5</text>
<text x="334.6" y="364.6">10</text>
<text x="361.8" y="364.6">15</text>
<text x="389.0" y="364.6">20</text>
<text x="416.2" y="364.6">25</text>
<text x="443.4" y="364.6">30</text>
<text x="470.5" y="364.6">35</text>
<text x="495.2" y="364.6">40</text>
</g>
<text x="2.0" y="322.5" font-weight="bold" font-size="13px" fill="#000">DLB</text>
<g>
<path d="M280.3,312.7H498.9" stroke="#b4b4b4" stroke-width="1"/>
<path d="M280.30,305.30 L280.87,304.63 L281.44,304.04 L282.02,303.47 L282.59,302.92 L283.16,302.38 L283.73,301.85 L284.30,301.34 L284.87,300.86 L285.45,300.40 L286.02,299.95 L286.59,299.53 L287.16,299.11 L287.73,298.72 L288.31,298.33 L288.88,297.96 L289.45,297.60 L290.02,297.25 L290.59,296.90 L291.17,296.57 L291.74,296.24 L292.31,295.92 L292.88,295.60 L293.45,295.28 L294.02,294.98 L294.60,294.70 L295.17,294.43 L295.74,294.18 L296.31,293.96 L296.88,293.77 L297.46,293.59 L298.03,293.43 L298.60,293.29 L299.17,293.15 L299.74,293.02 L300.32,292.91 L300.89,292.79 L301.46,292.69 L302.03,292.60 L302.60,292.52 L303.17,292.45 L303.75,292.39 L304.32,292.34 L304.89,292.30 L305.46,292.27 L306.03,292.24 L306.61,292.21 L307.18,292.19 L307.75,292.17 L308.32,292.15 L308.89,292.13 L309.46,292.12 L310.04,292.11 L310.61,292.11 L311.18,292.11 L311.75,292.12 L312.32,292.13 L312.90,292.14 L313.47,292.17 L314.04,292.19 L314.61,292.22 L315.18,292.26 L315.76,292.30 L316.33,292.34 L316.90,292.40 L317.47,292.46 L318.04,292.55 L318.61,292.65 L319.19,292.78 L319.76,292.92 L320.33,293.09 L320.90,293.28 L321.47,293.47 L322.05,293.68 L322.62,293.90 L323.19,294.13 L323.76,294.37 L324.33,294.61 L324.91,294.87 L325.48,295.14 L326.05,295.43 L326.62,295.75 L327.19,296.08 L327.76,296.42 L328.34,296.78 L328.91,297.15 L329.48,297.51 L330.05,297.88 L330.62,298.24 L331.20,298.60 L331.77,298.95 L332.34,299.29 L332.91,299.62 L333.48,299.95 L334.05,300.28 L334.63,300.61 L335.20,300.93 L335.77,301.25 L336.34,301.57 L336.91,301.89 L337.49,302.21 L338.06,302.52 L338.63,302.83 L339.20,303.14 L339.77,303.45 L340.35,303.75 L340.92,304.06 L341.49,304.36 L342.06,304.66 L342.63,304.96 L343.20,305.26 L343.78,305.55 L344.35,305.83 L344.92,306.11 L345.49,306.37 L346.06,306.63 L346.64,306.87 L347.21,307.11 L347.78,307.34 L348.35,307.56 L348.92,307.78 L349.49,307.99 L350.07,308.19 L350.64,308.39 L351.21,308.58 L351.78,308.77 L352.35,308.94 L352.93,309.10 L353.50,309.26 L354.07,309.40 L354.64,309.54 L355.21,309.67 L355.79,309.80 L356.36,309.92 L356.93,310.03 L357.50,310.14 L358.07,310.25 L358.64,310.35 L359.22,310.45 L359.79,310.54 L360.36,310.62 L360.93,310.70 L361.50,310.77 L362.08,310.85 L362.65,310.92 L363.22,310.99 L363.79,311.06 L364.36,311.12 L364.94,311.18 L365.51,311.25 L366.08,311.31 L366.65,311.37 L367.22,311.42 L367.79,311.48 L368.37,311.54 L368.94,311.59 L369.51,311.64 L370.08,311.69 L370.65,311.74 L371.23,311.79 L371.80,311.83 L372.37,311.87 L372.94,311.91 L373.51,311.95 L374.08,311.99 L374.66,312.02 L375.23,312.05 L375.80,312.08 L376.37,312.11 L376.94,312.14 L377.52,312.17 L378.09,312.20 L378.66,312.22 L379.23,312.25 L379.80,312.27 L380.38,312.30 L380.95,312.32 L381.52,312.34 L382.09,312.36 L382.66,312.38 L383.23,312.40 L383.81,312.42 L384.38,312.44 L384.95,312.46 L385.52,312.48 L386.09,312.50 L386.67,312.51 L387.24,312.53 L387.81,312.55 L388.38,312.56 L388.95,312.58 L389.53,312.60 L390.10,312.61 L390.67,312.63 L391.24,312.64 L391.81,312.65 L392.38,312.67 L392.96,312.68 L393.53,312.69 L394.10,312.70 L394.10,313.25 L280.30,313.25Z" fill="#94EBA8"/>
<path d="M280.30,305.30 L280.87,304.63 L281.44,304.04 L282.02,303.47 L282.59,302.92 L283.16,302.38 L283.73,301.85 L284.30,301.34 L284.87,300.86 L285.45,300.40 L286.02,299.95 L286.59,299.53 L287.16,299.11 L287.73,298.72 L288.31,298.33 L288.88,297.96 L289.45,297.60 L290.02,297.25 L290.59,296.90 L291.17,296.57 L291.74,296.24 L292.31,295.92 L292.88,295.60 L293.45,295.28 L294.02,294.98 L294.60,294.70 L295.17,294.43 L295.74,294.18 L296.31,293.96 L296.88,293.77 L297.46,293.59 L298.03,293.43 L298.60,293.29 L299.17,293.15 L299.74,293.02 L300.32,292.91 L300.89,292.79 L301.46,292.69 L302.03,292.60 L302.60,292.52 L303.17,292.45 L303.75,292.39 L304.32,292.34 L304.89,292.30 L305.46,292.27 L306.03,292.24 L306.61,292.21 L307.18,292.19 L307.75,292.17 L308.32,292.15 L308.89,292.13 L309.46,292.12 L310.04,292.11 L310.61,292.11 L311.18,292.11 L311.75,292.12 L312.32,292.13 L312.90,292.14 L313.47,292.17 L314.04,292.19 L314.61,292.22 L315.18,292.26 L315.76,292.30 L316.33,292.34 L316.90,292.40 L317.47,292.46 L318.04,292.55 L318.61,292.65 L319.19,292.78 L319.76,292.92 L320.33,293.09 L320.90,293.28 L321.47,293.47 L322.05,293.68 L322.62,293.90 L323.19,294.13 L323.76,294.37 L324.33,294.61 L324.91,294.87 L325.48,295.14 L326.05,295.43 L326.62,295.75 L327.19,296.08 L327.76,296.42 L328.34,296.78 L328.91,297.15 L329.48,297.51 L330.05,297.88 L330.62,298.24 L331.20,298.60 L331.77,298.95 L332.34,299.29 L332.91,299.62 L333.48,299.95 L334.05,300.28 L334.63,300.61 L335.20,300.93 L335.77,301.25 L336.34,301.57 L336.91,301.89 L337.49,302.21 L338.06,302.52 L338.63,302.83 L339.20,303.14 L339.77,303.45 L340.35,303.75 L340.92,304.06 L341.49,304.36 L342.06,304.66 L342.63,304.96 L343.20,305.26 L343.78,305.55 L344.35,305.83 L344.92,306.11 L345.49,306.37 L346.06,306.63 L346.64,306.87 L347.21,307.11 L347.78,307.34 L348.35,307.56 L348.92,307.78 L349.49,307.99 L350.07,308.19 L350.64,308.39 L351.21,308.58 L351.78,308.77 L352.35,308.94 L352.93,309.10 L353.50,309.26 L354.07,309.40 L354.64,309.54 L355.21,309.67 L355.79,309.80 L356.36,309.92 L356.93,310.03 L357.50,310.14 L358.07,310.25 L358.64,310.35 L359.22,310.45 L359.79,310.54 L360.36,310.62 L360.93,310.70 L361.50,310.77 L362.08,310.85 L362.65,310.92 L363.22,310.99 L363.79,311.06 L364.36,311.12 L364.94,311.18 L365.51,311.25 L366.08,311.31 L366.65,311.37 L367.22,311.42 L367.79,311.48 L368.37,311.54 L368.94,311.59 L369.51,311.64 L370.08,311.69 L370.65,311.74 L371.23,311.79 L371.80,311.83 L372.37,311.87 L372.94,311.91 L373.51,311.95 L374.08,311.99 L374.66,312.02 L375.23,312.05 L375.80,312.08 L376.37,312.11 L376.94,312.14 L377.52,312.17 L378.09,312.20 L378.66,312.22 L379.23,312.25 L379.80,312.27 L380.38,312.30 L380.95,312.32 L381.52,312.34 L382.09,312.36 L382.66,312.38 L383.23,312.40 L383.81,312.42 L384.38,312.44 L384.95,312.46 L385.52,312.48 L386.09,312.50 L386.67,312.51 L387.24,312.53 L387.81,312.55 L388.38,312.56 L388.95,312.58 L389.53,312.60 L390.10,312.61 L390.67,312.63 L391.24,312.64 L391.81,312.65 L392.38,312.67 L392.96,312.68 L393.53,312.69 L394.10,312.70" fill="none" stroke="#1a1a1a" stroke-width="1.3" stroke-linejoin="round"/>
<path d="M296.7,316.7h0M296.7,321.1h0M324.0,318.8h0M318.6,326.3h0M302.2,328.1h0M302.2,316.8h0M313.1,328.8h0M340.4,326.3h0M313.1,319.2h0M334.9,329.6h0M318.6,320.3h0M318.6,327.7h0M313.1,317.0h0M324.0,322.7h0M313.1,323.5h0M324.0,329.3h0M296.7,328.4h0M302.2,324.1h0M340.4,316.7h0M307.6,322.3h0M334.9,321.5h0M345.9,330.8h0M318.6,326.1h0M291.2,322.0h0M329.5,321.4h0M324.0,327.4h0M302.2,317.3h0M334.9,328.2h0M313.1,326.0h0M285.8,322.4h0M285.8,326.6h0M296.7,321.9h0M318.6,318.0h0M329.5,322.2h0M291.2,316.7h0M318.6,317.2h0M307.6,322.5h0M307.6,328.3h0M334.9,319.0h0M345.9,323.4h0" stroke="#5E9E70" stroke-width="2.0" stroke-linecap="round" fill="none"/>
<rect x="280.30" y="315.3" width="105.47" height="15.40" fill="none" stroke="#262626" stroke-width="1.35"/>
<path d="M322.38,315.3V330.7" stroke="#262626" stroke-width="1.35"/>
<rect x="280.3" y="290.5" width="218.60" height="63.50" fill="none" stroke="#a8a8a8" stroke-width="0.9"/>
<path d="M280.30,290.5v2.2M307.62,290.5v2.2M334.95,290.5v2.2M362.27,290.5v2.2M389.60,290.5v2.2M416.92,290.5v2.2M444.25,290.5v2.2M471.57,290.5v2.2M498.90,290.5v2.2M280.30,354.0v-2.2M307.62,354.0v-2.2M334.95,354.0v-2.2M362.27,354.0v-2.2M389.60,354.0v-2.2M416.92,354.0v-2.2M444.25,354.0v-2.2M471.57,354.0v-2.2M498.90,354.0v-2.2" stroke="#a8a8a8" stroke-width="1" fill="none"/>
</g>
<g>
<rect x="532.5" y="288.0" width="146.40" height="64.30" fill="none" stroke="#a8a8a8" stroke-width="0.9"/>
<path d="M532.50,288.0v2.2M581.10,288.0v2.2M629.70,288.0v2.2M678.30,288.0v2.2M532.50,352.3v-2.2M581.10,352.3v-2.2M629.70,352.3v-2.2M678.30,352.3v-2.2M532.5,320.15h2.2M678.9,320.15h-2.2" stroke="#a8a8a8" stroke-width="1" fill="none"/>
<path d="M532.5,320.15H573.81" stroke="#7c7c7c" stroke-width="0.8" fill="none" stroke-dasharray="5,3"/>
<path d="M573.81,320.15V352.3" stroke="#b4b4b4" stroke-width="0.9" fill="none" stroke-dasharray="5,3"/>
<path d="M532.50,288.00 L533.71,288.68 L534.92,289.37 L536.13,290.09 L537.34,290.83 L538.55,291.59 L539.76,292.36 L540.97,293.16 L542.18,293.98 L543.39,294.82 L544.60,295.69 L545.81,296.57 L547.02,297.47 L548.23,298.39 L549.44,299.34 L550.65,300.30 L551.86,301.28 L553.07,302.28 L554.28,303.30 L555.49,304.34 L556.70,305.39 L557.91,306.47 L559.12,307.55 L560.32,308.66 L561.53,309.77 L562.74,310.90 L563.95,312.04 L565.16,313.19 L566.37,314.36 L567.58,315.52 L568.79,316.70 L570.00,317.88 L571.21,319.06 L572.42,320.25 L573.63,321.43 L574.84,322.61 L576.05,323.79 L577.26,324.96 L578.47,326.13 L579.68,327.28 L580.89,328.42 L582.10,329.55 L583.31,330.67 L584.52,331.76 L585.73,332.84 L586.94,333.89 L588.15,334.93 L589.36,335.93 L590.57,336.91 L591.78,337.87 L592.99,338.79 L594.20,339.68 L595.41,340.54 L596.62,341.37 L597.83,342.16 L599.04,342.92 L600.25,343.65 L601.46,344.34 L602.67,344.99 L603.88,345.61 L605.09,346.19 L606.30,346.74 L607.51,347.25 L608.72,347.73 L609.93,348.18 L611.14,348.59 L612.35,348.97 L613.56,349.33 L614.76,349.65 L615.97,349.95 L617.18,350.22 L618.39,350.46 L619.60,350.68 L620.81,350.88 L622.02,351.06 L623.23,351.22 L624.44,351.37 L625.65,351.49 L626.86,351.61 L628.07,351.70 L629.28,351.79 L630.49,351.87 L631.70,351.93 L632.91,351.99 L634.12,352.04 L635.33,352.08 L636.54,352.12 L637.75,352.15 L638.96,352.17 L640.17,352.20 L641.38,352.21 L642.59,352.23 L643.80,352.24 L645.01,352.25 L646.22,352.26 L647.43,352.27 L648.64,352.28 L649.85,352.28 L651.06,352.28 L652.27,352.29 L653.48,352.29 L654.69,352.29 L655.90,352.29 L657.11,352.30 L658.32,352.30 L659.53,352.30 L660.74,352.30 L661.95,352.30 L663.16,352.30 L664.37,352.30 L665.58,352.30 L666.79,352.30 L668.00,352.30 L669.20,352.30 L670.41,352.30 L671.62,352.30 L672.83,352.30 L674.04,352.30 L675.25,352.30 L676.46,352.30 L677.67,352.30 L678.88,352.30" fill="none" stroke="#0a0a0a" stroke-width="1.85" stroke-linejoin="round"/>
<text x="574.6" y="320.2" font-size="11.5px" fill="#1a1a1a">8.5y</text>
<g font-weight="bold" font-size="11.5px" fill="#000">
<text x="529.3" y="294.8" text-anchor="end">1</text>
<text x="529.3" y="325.5" text-anchor="end">0.5</text>
<text x="530.2" y="355.8" text-anchor="end">0</text>
<text x="533.3" y="363.2" text-anchor="middle">0</text>
<text x="580.3" y="363.2" text-anchor="middle">10</text>
<text x="629.4" y="363.2" text-anchor="middle">20</text>
<text x="677.0" y="363.2" text-anchor="middle">30</text>
</g></g>
<g>
<path d="M33.0,403.5H251.5" stroke="#b4b4b4" stroke-width="1"/>
<path d="M73.10,403.50 L73.79,403.48 L74.48,403.46 L75.17,403.45 L75.86,403.43 L76.55,403.41 L77.24,403.39 L77.93,403.37 L78.62,403.35 L79.31,403.34 L80.00,403.32 L80.69,403.30 L81.38,403.28 L82.07,403.26 L82.76,403.24 L83.45,403.22 L84.14,403.20 L84.83,403.18 L85.52,403.16 L86.21,403.15 L86.90,403.13 L87.59,403.11 L88.28,403.09 L88.97,403.07 L89.66,403.05 L90.35,403.03 L91.04,403.01 L91.73,403.00 L92.42,402.98 L93.11,402.96 L93.80,402.95 L94.49,402.93 L95.18,402.92 L95.87,402.90 L96.56,402.89 L97.25,402.87 L97.94,402.85 L98.63,402.83 L99.32,402.81 L100.01,402.78 L100.70,402.76 L101.39,402.73 L102.08,402.70 L102.77,402.67 L103.46,402.63 L104.15,402.57 L104.84,402.50 L105.53,402.41 L106.22,402.30 L106.91,402.18 L107.60,402.04 L108.29,401.89 L108.98,401.74 L109.67,401.60 L110.36,401.45 L111.05,401.32 L111.74,401.18 L112.43,401.05 L113.12,400.94 L113.81,400.84 L114.50,400.75 L115.19,400.66 L115.88,400.58 L116.57,400.50 L117.26,400.43 L117.95,400.35 L118.64,400.26 L119.33,400.18 L120.02,400.08 L120.71,399.98 L121.40,399.87 L122.09,399.75 L122.78,399.63 L123.47,399.49 L124.16,399.35 L124.85,399.20 L125.54,399.04 L126.23,398.87 L126.92,398.70 L127.61,398.51 L128.30,398.31 L128.99,398.11 L129.68,397.89 L130.37,397.65 L131.06,397.39 L131.75,397.12 L132.44,396.82 L133.13,396.50 L133.82,396.16 L134.51,395.81 L135.20,395.44 L135.89,395.05 L136.58,394.66 L137.27,394.25 L137.96,393.83 L138.65,393.39 L139.34,392.92 L140.03,392.44 L140.72,391.93 L141.41,391.40 L142.09,390.86 L142.78,390.31 L143.47,389.75 L144.16,389.20 L144.85,388.63 L145.54,388.05 L146.23,387.46 L146.92,386.88 L147.61,386.31 L148.30,385.79 L148.99,385.33 L149.68,384.93 L150.37,384.59 L151.06,384.29 L151.75,384.03 L152.44,383.82 L153.13,383.68 L153.82,383.61 L154.51,383.62 L155.20,383.71 L155.89,383.86 L156.58,384.07 L157.27,384.33 L157.96,384.61 L158.65,384.93 L159.34,385.30 L160.03,385.72 L160.72,386.20 L161.41,386.75 L162.10,387.36 L162.79,388.00 L163.48,388.66 L164.17,389.32 L164.86,389.97 L165.55,390.61 L166.24,391.24 L166.93,391.89 L167.62,392.53 L168.31,393.18 L169.00,393.81 L169.69,394.43 L170.38,395.02 L171.07,395.58 L171.76,396.11 L172.45,396.60 L173.14,397.07 L173.83,397.51 L174.52,397.94 L175.21,398.35 L175.90,398.74 L176.59,399.11 L177.28,399.45 L177.97,399.76 L178.66,400.02 L179.35,400.26 L180.04,400.46 L180.73,400.63 L181.42,400.79 L182.11,400.93 L182.80,401.06 L183.49,401.19 L184.18,401.30 L184.87,401.39 L185.56,401.48 L186.25,401.57 L186.94,401.65 L187.63,401.73 L188.32,401.81 L189.01,401.88 L189.70,401.96 L190.39,402.03 L191.08,402.10 L191.77,402.16 L192.46,402.23 L193.15,402.29 L193.84,402.35 L194.53,402.40 L195.22,402.46 L195.91,402.52 L196.60,402.57 L197.29,402.63 L197.98,402.68 L198.67,402.73 L199.36,402.78 L200.05,402.84 L200.74,402.89 L201.43,402.94 L202.12,402.99 L202.81,403.03 L203.50,403.08 L204.19,403.13 L204.88,403.17 L205.57,403.22 L206.26,403.26 L206.95,403.30 L207.64,403.34 L208.33,403.39 L209.02,403.42 L209.71,403.46 L210.40,403.50 L210.40,404.05 L73.10,404.05Z" fill="#C350FC"/>
<path d="M73.10,403.50 L73.79,403.48 L74.48,403.46 L75.17,403.45 L75.86,403.43 L76.55,403.41 L77.24,403.39 L77.93,403.37 L78.62,403.35 L79.31,403.34 L80.00,403.32 L80.69,403.30 L81.38,403.28 L82.07,403.26 L82.76,403.24 L83.45,403.22 L84.14,403.20 L84.83,403.18 L85.52,403.16 L86.21,403.15 L86.90,403.13 L87.59,403.11 L88.28,403.09 L88.97,403.07 L89.66,403.05 L90.35,403.03 L91.04,403.01 L91.73,403.00 L92.42,402.98 L93.11,402.96 L93.80,402.95 L94.49,402.93 L95.18,402.92 L95.87,402.90 L96.56,402.89 L97.25,402.87 L97.94,402.85 L98.63,402.83 L99.32,402.81 L100.01,402.78 L100.70,402.76 L101.39,402.73 L102.08,402.70 L102.77,402.67 L103.46,402.63 L104.15,402.57 L104.84,402.50 L105.53,402.41 L106.22,402.30 L106.91,402.18 L107.60,402.04 L108.29,401.89 L108.98,401.74 L109.67,401.60 L110.36,401.45 L111.05,401.32 L111.74,401.18 L112.43,401.05 L113.12,400.94 L113.81,400.84 L114.50,400.75 L115.19,400.66 L115.88,400.58 L116.57,400.50 L117.26,400.43 L117.95,400.35 L118.64,400.26 L119.33,400.18 L120.02,400.08 L120.71,399.98 L121.40,399.87 L122.09,399.75 L122.78,399.63 L123.47,399.49 L124.16,399.35 L124.85,399.20 L125.54,399.04 L126.23,398.87 L126.92,398.70 L127.61,398.51 L128.30,398.31 L128.99,398.11 L129.68,397.89 L130.37,397.65 L131.06,397.39 L131.75,397.12 L132.44,396.82 L133.13,396.50 L133.82,396.16 L134.51,395.81 L135.20,395.44 L135.89,395.05 L136.58,394.66 L137.27,394.25 L137.96,393.83 L138.65,393.39 L139.34,392.92 L140.03,392.44 L140.72,391.93 L141.41,391.40 L142.09,390.86 L142.78,390.31 L143.47,389.75 L144.16,389.20 L144.85,388.63 L145.54,388.05 L146.23,387.46 L146.92,386.88 L147.61,386.31 L148.30,385.79 L148.99,385.33 L149.68,384.93 L150.37,384.59 L151.06,384.29 L151.75,384.03 L152.44,383.82 L153.13,383.68 L153.82,383.61 L154.51,383.62 L155.20,383.71 L155.89,383.86 L156.58,384.07 L157.27,384.33 L157.96,384.61 L158.65,384.93 L159.34,385.30 L160.03,385.72 L160.72,386.20 L161.41,386.75 L162.10,387.36 L162.79,388.00 L163.48,388.66 L164.17,389.32 L164.86,389.97 L165.55,390.61 L166.24,391.24 L166.93,391.89 L167.62,392.53 L168.31,393.18 L169.00,393.81 L169.69,394.43 L170.38,395.02 L171.07,395.58 L171.76,396.11 L172.45,396.60 L173.14,397.07 L173.83,397.51 L174.52,397.94 L175.21,398.35 L175.90,398.74 L176.59,399.11 L177.28,399.45 L177.97,399.76 L178.66,400.02 L179.35,400.26 L180.04,400.46 L180.73,400.63 L181.42,400.79 L182.11,400.93 L182.80,401.06 L183.49,401.19 L184.18,401.30 L184.87,401.39 L185.56,401.48 L186.25,401.57 L186.94,401.65 L187.63,401.73 L188.32,401.81 L189.01,401.88 L189.70,401.96 L190.39,402.03 L191.08,402.10 L191.77,402.16 L192.46,402.23 L193.15,402.29 L193.84,402.35 L194.53,402.40 L195.22,402.46 L195.91,402.52 L196.60,402.57 L197.29,402.63 L197.98,402.68 L198.67,402.73 L199.36,402.78 L200.05,402.84 L200.74,402.89 L201.43,402.94 L202.12,402.99 L202.81,403.03 L203.50,403.08 L204.19,403.13 L204.88,403.17 L205.57,403.22 L206.26,403.26 L206.95,403.30 L207.64,403.34 L208.33,403.39 L209.02,403.42 L209.71,403.46 L210.40,403.50" fill="none" stroke="#1a1a1a" stroke-width="1.3" stroke-linejoin="round"/>
<path d="M167.9,412.9h0M175.0,407.7h0M159.3,413.1h0M155.4,413.8h0M155.1,418.1h0M156.0,408.0h0M150.0,412.3h0M144.9,418.0h0M136.9,411.4h0M145.3,418.9h0M164.2,417.1h0M153.8,407.0h0M129.7,412.1h0M167.0,417.8h0M179.7,414.2h0M158.2,416.4h0M154.0,421.2h0M147.5,416.5h0M167.8,414.5h0M152.4,419.0h0M141.1,412.8h0M147.0,406.6h0M153.1,410.5h0M159.4,415.3h0M120.4,420.5h0M162.5,415.4h0M153.0,410.6h0M159.9,421.2h0M162.4,412.4h0M123.6,409.8h0M150.5,414.6h0M133.6,411.5h0M145.6,408.1h0M145.1,417.0h0M174.2,416.7h0M152.6,420.9h0M161.2,408.4h0M151.4,420.0h0M93.6,420.8h0M112.8,407.7h0M114.9,417.3h0M117.2,412.4h0" stroke="#8A38BC" stroke-width="2.0" stroke-linecap="round" fill="none"/>
<rect x="118.70" y="405.8" width="74.78" height="15.30" fill="none" stroke="#262626" stroke-width="1.35"/>
<path d="M155.85,405.8V421.1" stroke="#262626" stroke-width="1.35"/>
<rect x="33.0" y="381.0" width="218.50" height="63.00" fill="none" stroke="#a8a8a8" stroke-width="0.9"/>
<path d="M33.00,381.0v2.2M57.28,381.0v2.2M81.56,381.0v2.2M105.83,381.0v2.2M130.11,381.0v2.2M154.39,381.0v2.2M178.67,381.0v2.2M202.94,381.0v2.2M227.22,381.0v2.2M251.50,381.0v2.2M33.00,444.0v-2.2M60.31,444.0v-2.2M87.62,444.0v-2.2M114.94,444.0v-2.2M142.25,444.0v-2.2M169.56,444.0v-2.2M196.88,444.0v-2.2M224.19,444.0v-2.2M251.50,444.0v-2.2" stroke="#a8a8a8" stroke-width="1" fill="none"/>
</g>
<g font-weight="bold" font-size="11.5px" fill="#000" text-anchor="middle">
<text x="32.5" y="454.1">20</text>
<text x="56.8" y="454.1">30</text>
<text x="81.1" y="454.1">40</text>
<text x="105.3" y="454.1">50</text>
<text x="129.6" y="454.1">60</text>
<text x="153.9" y="454.1">70</text>
<text x="178.2" y="454.1">80</text>
<text x="202.4" y="454.1">90</text>
<text x="225.4" y="454.1">100</text>
<text x="251.0" y="454.1">110</text>
<text x="280.3" y="454.1">0</text>
<text x="307.5" y="454.1">5</text>
<text x="334.6" y="454.1">10</text>
<text x="361.8" y="454.1">15</text>
<text x="389.0" y="454.1">20</text>
<text x="416.2" y="454.1">25</text>
<text x="443.4" y="454.1">30</text>
<text x="470.5" y="454.1">35</text>
<text x="495.2" y="454.1">40</text>
</g>
<text x="1.0" y="413.7" font-weight="bold" font-size="13px" fill="#000">CBD</text>
<g>
<path d="M280.3,403.5H498.9" stroke="#b4b4b4" stroke-width="1"/>
<path d="M280.30,402.27 L280.87,402.16 L281.44,402.04 L282.02,401.90 L282.59,401.75 L283.16,401.57 L283.73,401.39 L284.30,401.19 L284.87,400.95 L285.45,400.70 L286.02,400.44 L286.59,400.17 L287.16,399.88 L287.73,399.57 L288.31,399.24 L288.88,398.88 L289.45,398.49 L290.02,398.07 L290.59,397.63 L291.17,397.18 L291.74,396.71 L292.31,396.22 L292.88,395.74 L293.45,395.25 L294.02,394.76 L294.60,394.26 L295.17,393.77 L295.74,393.26 L296.31,392.74 L296.88,392.21 L297.46,391.67 L298.03,391.13 L298.60,390.59 L299.17,390.06 L299.74,389.54 L300.32,389.03 L300.89,388.54 L301.46,388.08 L302.03,387.63 L302.60,387.20 L303.17,386.79 L303.75,386.39 L304.32,386.00 L304.89,385.62 L305.46,385.26 L306.03,384.92 L306.61,384.62 L307.18,384.34 L307.75,384.11 L308.32,383.91 L308.89,383.74 L309.46,383.59 L310.04,383.46 L310.61,383.34 L311.18,383.24 L311.75,383.16 L312.32,383.10 L312.90,383.07 L313.47,383.07 L314.04,383.10 L314.61,383.16 L315.18,383.26 L315.76,383.40 L316.33,383.55 L316.90,383.74 L317.47,383.94 L318.04,384.16 L318.61,384.40 L319.19,384.66 L319.76,384.95 L320.33,385.28 L320.90,385.65 L321.47,386.07 L322.05,386.54 L322.62,387.03 L323.19,387.56 L323.76,388.09 L324.33,388.63 L324.91,389.17 L325.48,389.70 L326.05,390.23 L326.62,390.76 L327.19,391.29 L327.76,391.83 L328.34,392.37 L328.91,392.90 L329.48,393.43 L330.05,393.93 L330.62,394.41 L331.20,394.86 L331.77,395.29 L332.34,395.68 L332.91,396.05 L333.48,396.41 L334.05,396.74 L334.63,397.07 L335.20,397.37 L335.77,397.66 L336.34,397.92 L336.91,398.17 L337.49,398.39 L338.06,398.59 L338.63,398.76 L339.20,398.93 L339.77,399.07 L340.35,399.21 L340.92,399.34 L341.49,399.46 L342.06,399.57 L342.63,399.68 L343.20,399.78 L343.78,399.88 L344.35,399.98 L344.92,400.07 L345.49,400.17 L346.06,400.26 L346.64,400.36 L347.21,400.46 L347.78,400.56 L348.35,400.66 L348.92,400.76 L349.49,400.87 L350.07,400.97 L350.64,401.08 L351.21,401.18 L351.78,401.27 L352.35,401.36 L352.93,401.44 L353.50,401.51 L354.07,401.58 L354.64,401.64 L355.21,401.70 L355.79,401.75 L356.36,401.79 L356.93,401.82 L357.50,401.85 L358.07,401.88 L358.64,401.90 L359.22,401.92 L359.79,401.94 L360.36,401.96 L360.93,401.98 L361.50,402.00 L362.08,402.02 L362.65,402.03 L363.22,402.05 L363.79,402.06 L364.36,402.07 L364.94,402.08 L365.51,402.08 L366.08,402.08 L366.65,402.08 L367.22,402.08 L367.79,402.07 L368.37,402.05 L368.94,402.03 L369.51,402.01 L370.08,401.98 L370.65,401.95 L371.23,401.93 L371.80,401.90 L372.37,401.88 L372.94,401.86 L373.51,401.85 L374.08,401.85 L374.66,401.86 L375.23,401.88 L375.80,401.91 L376.37,401.95 L376.94,402.01 L377.52,402.07 L378.09,402.13 L378.66,402.20 L379.23,402.26 L379.80,402.33 L380.38,402.39 L380.95,402.45 L381.52,402.51 L382.09,402.56 L382.66,402.60 L383.23,402.65 L383.81,402.69 L384.38,402.73 L384.95,402.77 L385.52,402.81 L386.09,402.85 L386.67,402.89 L387.24,402.93 L387.81,402.97 L388.38,403.01 L388.95,403.04 L389.53,403.08 L390.10,403.11 L390.67,403.15 L391.24,403.18 L391.81,403.21 L392.38,403.24 L392.96,403.27 L393.53,403.30 L394.10,403.32 L394.10,404.05 L280.30,404.05Z" fill="#C350FC"/>
<path d="M280.30,402.27 L280.87,402.16 L281.44,402.04 L282.02,401.90 L282.59,401.75 L283.16,401.57 L283.73,401.39 L284.30,401.19 L284.87,400.95 L285.45,400.70 L286.02,400.44 L286.59,400.17 L287.16,399.88 L287.73,399.57 L288.31,399.24 L288.88,398.88 L289.45,398.49 L290.02,398.07 L290.59,397.63 L291.17,397.18 L291.74,396.71 L292.31,396.22 L292.88,395.74 L293.45,395.25 L294.02,394.76 L294.60,394.26 L295.17,393.77 L295.74,393.26 L296.31,392.74 L296.88,392.21 L297.46,391.67 L298.03,391.13 L298.60,390.59 L299.17,390.06 L299.74,389.54 L300.32,389.03 L300.89,388.54 L301.46,388.08 L302.03,387.63 L302.60,387.20 L303.17,386.79 L303.75,386.39 L304.32,386.00 L304.89,385.62 L305.46,385.26 L306.03,384.92 L306.61,384.62 L307.18,384.34 L307.75,384.11 L308.32,383.91 L308.89,383.74 L309.46,383.59 L310.04,383.46 L310.61,383.34 L311.18,383.24 L311.75,383.16 L312.32,383.10 L312.90,383.07 L313.47,383.07 L314.04,383.10 L314.61,383.16 L315.18,383.26 L315.76,383.40 L316.33,383.55 L316.90,383.74 L317.47,383.94 L318.04,384.16 L318.61,384.40 L319.19,384.66 L319.76,384.95 L320.33,385.28 L320.90,385.65 L321.47,386.07 L322.05,386.54 L322.62,387.03 L323.19,387.56 L323.76,388.09 L324.33,388.63 L324.91,389.17 L325.48,389.70 L326.05,390.23 L326.62,390.76 L327.19,391.29 L327.76,391.83 L328.34,392.37 L328.91,392.90 L329.48,393.43 L330.05,393.93 L330.62,394.41 L331.20,394.86 L331.77,395.29 L332.34,395.68 L332.91,396.05 L333.48,396.41 L334.05,396.74 L334.63,397.07 L335.20,397.37 L335.77,397.66 L336.34,397.92 L336.91,398.17 L337.49,398.39 L338.06,398.59 L338.63,398.76 L339.20,398.93 L339.77,399.07 L340.35,399.21 L340.92,399.34 L341.49,399.46 L342.06,399.57 L342.63,399.68 L343.20,399.78 L343.78,399.88 L344.35,399.98 L344.92,400.07 L345.49,400.17 L346.06,400.26 L346.64,400.36 L347.21,400.46 L347.78,400.56 L348.35,400.66 L348.92,400.76 L349.49,400.87 L350.07,400.97 L350.64,401.08 L351.21,401.18 L351.78,401.27 L352.35,401.36 L352.93,401.44 L353.50,401.51 L354.07,401.58 L354.64,401.64 L355.21,401.70 L355.79,401.75 L356.36,401.79 L356.93,401.82 L357.50,401.85 L358.07,401.88 L358.64,401.90 L359.22,401.92 L359.79,401.94 L360.36,401.96 L360.93,401.98 L361.50,402.00 L362.08,402.02 L362.65,402.03 L363.22,402.05 L363.79,402.06 L364.36,402.07 L364.94,402.08 L365.51,402.08 L366.08,402.08 L366.65,402.08 L367.22,402.08 L367.79,402.07 L368.37,402.05 L368.94,402.03 L369.51,402.01 L370.08,401.98 L370.65,401.95 L371.23,401.93 L371.80,401.90 L372.37,401.88 L372.94,401.86 L373.51,401.85 L374.08,401.85 L374.66,401.86 L375.23,401.88 L375.80,401.91 L376.37,401.95 L376.94,402.01 L377.52,402.07 L378.09,402.13 L378.66,402.20 L379.23,402.26 L379.80,402.33 L380.38,402.39 L380.95,402.45 L381.52,402.51 L382.09,402.56 L382.66,402.60 L383.23,402.65 L383.81,402.69 L384.38,402.73 L384.95,402.77 L385.52,402.81 L386.09,402.85 L386.67,402.89 L387.24,402.93 L387.81,402.97 L388.38,403.01 L388.95,403.04 L389.53,403.08 L390.10,403.11 L390.67,403.15 L391.24,403.18 L391.81,403.21 L392.38,403.24 L392.96,403.27 L393.53,403.30 L394.10,403.32" fill="none" stroke="#1a1a1a" stroke-width="1.3" stroke-linejoin="round"/>
<path d="M329.5,409.2h0M302.2,420.4h0M313.1,412.0h0M318.6,408.5h0M307.6,416.3h0M296.7,420.9h0M334.9,418.2h0M302.2,416.1h0M313.1,412.0h0M313.1,412.4h0M345.9,410.9h0M318.6,418.4h0M313.1,418.4h0M307.6,413.7h0M324.0,419.2h0M302.2,416.1h0M324.0,416.6h0M324.0,410.4h0M329.5,410.0h0M313.1,409.8h0M302.2,420.0h0M318.6,418.3h0M345.9,419.8h0M307.6,418.7h0M285.8,418.4h0M302.2,412.9h0M351.3,417.8h0M291.2,408.9h0M296.7,416.2h0M340.4,407.0h0M307.6,420.8h0M324.0,419.5h0M324.0,408.9h0M313.1,417.9h0M324.0,418.7h0M313.1,407.0h0M318.6,414.8h0M307.6,412.7h0M356.1,416.0h0M372.5,407.8h0M372.5,419.9h0" stroke="#8A38BC" stroke-width="2.0" stroke-linecap="round" fill="none"/>
<rect x="281.94" y="405.8" width="71.05" height="15.30" fill="none" stroke="#262626" stroke-width="1.35"/>
<path d="M317.46,405.8V421.1" stroke="#262626" stroke-width="1.35"/>
<rect x="280.3" y="381.0" width="218.60" height="63.00" fill="none" stroke="#a8a8a8" stroke-width="0.9"/>
<path d="M280.30,381.0v2.2M307.62,381.0v2.2M334.95,381.0v2.2M362.27,381.0v2.2M389.60,381.0v2.2M416.92,381.0v2.2M444.25,381.0v2.2M471.57,381.0v2.2M498.90,381.0v2.2M280.30,444.0v-2.2M307.62,444.0v-2.2M334.95,444.0v-2.2M362.27,444.0v-2.2M389.60,444.0v-2.2M416.92,444.0v-2.2M444.25,444.0v-2.2M471.57,444.0v-2.2M498.90,444.0v-2.2" stroke="#a8a8a8" stroke-width="1" fill="none"/>
</g>
<g>
<rect x="532.5" y="377.5" width="146.40" height="64.40" fill="none" stroke="#a8a8a8" stroke-width="0.9"/>
<path d="M532.50,377.5v2.2M581.10,377.5v2.2M629.70,377.5v2.2M678.30,377.5v2.2M532.50,441.9v-2.2M581.10,441.9v-2.2M629.70,441.9v-2.2M678.30,441.9v-2.2M532.5,409.70h2.2M678.9,409.70h-2.2" stroke="#a8a8a8" stroke-width="1" fill="none"/>
<path d="M532.5,409.70H566.52" stroke="#7c7c7c" stroke-width="0.8" fill="none" stroke-dasharray="5,3"/>
<path d="M566.52,409.70V441.9" stroke="#b4b4b4" stroke-width="0.9" fill="none" stroke-dasharray="5,3"/>
<path d="M532.50,377.50 L533.71,377.55 L534.92,377.70 L536.13,377.95 L537.34,378.30 L538.55,378.74 L539.76,379.27 L540.97,379.90 L542.18,380.63 L543.39,381.44 L544.60,382.35 L545.81,383.34 L547.02,384.43 L548.23,385.60 L549.44,386.86 L550.65,388.19 L551.86,389.61 L553.07,391.10 L554.28,392.66 L555.49,394.29 L556.70,395.99 L557.91,397.73 L559.12,399.53 L560.32,401.37 L561.53,403.25 L562.74,405.16 L563.95,407.08 L565.16,409.02 L566.37,410.97 L567.58,412.91 L568.79,414.83 L570.00,416.73 L571.21,418.60 L572.42,420.43 L573.63,422.21 L574.84,423.93 L576.05,425.58 L577.26,427.17 L578.47,428.67 L579.68,430.09 L580.89,431.42 L582.10,432.67 L583.31,433.82 L584.52,434.87 L585.73,435.83 L586.94,436.71 L588.15,437.49 L589.36,438.18 L590.57,438.79 L591.78,439.33 L592.99,439.79 L594.20,440.18 L595.41,440.52 L596.62,440.80 L597.83,441.03 L599.04,441.22 L600.25,441.38 L601.46,441.50 L602.67,441.60 L603.88,441.68 L605.09,441.74 L606.30,441.78 L607.51,441.82 L608.72,441.84 L609.93,441.86 L611.14,441.87 L612.35,441.88 L613.56,441.89 L614.76,441.89 L615.97,441.89 L617.18,441.90 L618.39,441.90 L619.60,441.90 L620.81,441.90 L622.02,441.90 L623.23,441.90 L624.44,441.90 L625.65,441.90 L626.86,441.90 L628.07,441.90 L629.28,441.90 L630.49,441.90 L631.70,441.90 L632.91,441.90 L634.12,441.90 L635.33,441.90 L636.54,441.90 L637.75,441.90 L638.96,441.90 L640.17,441.90 L641.38,441.90 L642.59,441.90 L643.80,441.90 L645.01,441.90 L646.22,441.90 L647.43,441.90 L648.64,441.90 L649.85,441.90 L651.06,441.90 L652.27,441.90 L653.48,441.90 L654.69,441.90 L655.90,441.90 L657.11,441.90 L658.32,441.90 L659.53,441.90 L660.74,441.90 L661.95,441.90 L663.16,441.90 L664.37,441.90 L665.58,441.90 L666.79,441.90 L668.00,441.90 L669.20,441.90 L670.41,441.90 L671.62,441.90 L672.83,441.90 L674.04,441.90 L675.25,441.90 L676.46,441.90 L677.67,441.90 L678.88,441.90" fill="none" stroke="#0a0a0a" stroke-width="1.85" stroke-linejoin="round"/>
<text x="567.3" y="409.8" font-size="11.5px" fill="#1a1a1a">7y</text>
<g font-weight="bold" font-size="11.5px" fill="#000">
<text x="529.6" y="384.8" text-anchor="end">1</text>
<text x="529.6" y="415.1" text-anchor="end">0.5</text>
<text x="530.6" y="445.8" text-anchor="end">0</text>
<text x="533.3" y="453.1" text-anchor="middle">0</text>
<text x="580.3" y="453.1" text-anchor="middle">10</text>
<text x="629.4" y="453.1" text-anchor="middle">20</text>
<text x="677.0" y="453.1" text-anchor="middle">30</text>
</g></g>
</svg>
</body></html>
